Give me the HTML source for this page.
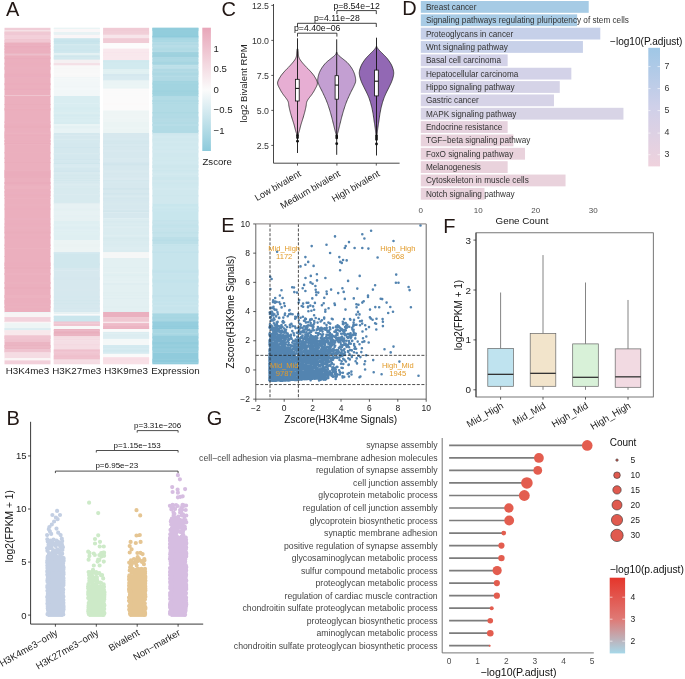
<!DOCTYPE html>
<html><head><meta charset="utf-8"><title>Figure</title>
<style>html,body{margin:0;padding:0;background:#fff;}svg{display:block;font-family:"Liberation Sans", sans-serif;will-change:transform;}</style>
</head><body>
<svg width="685" height="679" viewBox="0 0 685 679">
<rect width="685" height="679" fill="#fff"/>
<text x="6.00" y="15.70" font-size="20" fill="#231815" text-anchor="start">A</text>
<rect x="4.50" y="27.80" width="46.00" height="3.00" fill="#f0cdd7"/>
<rect x="4.50" y="30.50" width="46.00" height="1.40" fill="#f8ebee"/>
<rect x="4.50" y="31.60" width="46.00" height="3.70" fill="#f0c8d3"/>
<rect x="4.50" y="31.60" width="46.00" height="1.00" fill="#f0c8d3"/>
<rect x="4.50" y="32.60" width="46.00" height="1.00" fill="#f0cad4"/>
<rect x="4.50" y="33.60" width="46.00" height="1.00" fill="#f0c9d4"/>
<rect x="4.50" y="35.00" width="46.00" height="4.30" fill="#f3d0da"/>
<rect x="4.50" y="35.00" width="46.00" height="1.50" fill="#f3cfd9"/>
<rect x="4.50" y="36.50" width="46.00" height="2.00" fill="#f3cfd9"/>
<rect x="4.50" y="39.00" width="46.00" height="4.10" fill="#f0c6d1"/>
<rect x="4.50" y="40.00" width="46.00" height="2.00" fill="#f1c8d3"/>
<rect x="4.50" y="42.80" width="46.00" height="11.20" fill="#ebafbe"/>
<rect x="4.50" y="42.80" width="46.00" height="1.00" fill="#ebb1bf"/>
<rect x="4.50" y="44.80" width="46.00" height="1.50" fill="#ebb1c0"/>
<rect x="4.50" y="46.30" width="46.00" height="1.00" fill="#eaacbc"/>
<rect x="4.50" y="48.30" width="46.00" height="2.00" fill="#ebb0bf"/>
<rect x="4.50" y="51.30" width="46.00" height="1.50" fill="#ebb0bf"/>
<rect x="4.50" y="53.70" width="46.00" height="1.80" fill="#ecbdca"/>
<rect x="4.50" y="53.70" width="46.00" height="1.50" fill="#ecbecb"/>
<rect x="4.50" y="55.20" width="46.00" height="40.10" fill="#ebafbe"/>
<rect x="4.50" y="56.70" width="46.00" height="1.50" fill="#ebafbe"/>
<rect x="4.50" y="58.20" width="46.00" height="1.00" fill="#eaacbc"/>
<rect x="4.50" y="62.70" width="46.00" height="2.00" fill="#ebaebe"/>
<rect x="4.50" y="66.70" width="46.00" height="1.00" fill="#ebb1bf"/>
<rect x="4.50" y="67.70" width="46.00" height="2.00" fill="#ebb0bf"/>
<rect x="4.50" y="73.70" width="46.00" height="1.00" fill="#eaacbc"/>
<rect x="4.50" y="74.70" width="46.00" height="1.00" fill="#ebaebd"/>
<rect x="4.50" y="75.70" width="46.00" height="1.00" fill="#eaacbc"/>
<rect x="4.50" y="76.70" width="46.00" height="1.00" fill="#ebb0bf"/>
<rect x="4.50" y="83.20" width="46.00" height="2.00" fill="#ebadbd"/>
<rect x="4.50" y="88.70" width="46.00" height="1.00" fill="#eaacbc"/>
<rect x="4.50" y="95.00" width="46.00" height="1.30" fill="#efc4cf"/>
<rect x="4.50" y="95.00" width="46.00" height="1.00" fill="#efc4cf"/>
<rect x="4.50" y="96.00" width="46.00" height="216.30" fill="#ebafbe"/>
<rect x="4.50" y="96.00" width="46.00" height="1.00" fill="#ebb0be"/>
<rect x="4.50" y="104.00" width="46.00" height="1.00" fill="#eaadbc"/>
<rect x="4.50" y="108.00" width="46.00" height="1.00" fill="#ebb0bf"/>
<rect x="4.50" y="109.00" width="46.00" height="1.50" fill="#ebadbc"/>
<rect x="4.50" y="121.50" width="46.00" height="1.50" fill="#ebb0bf"/>
<rect x="4.50" y="124.50" width="46.00" height="1.50" fill="#ebaebd"/>
<rect x="4.50" y="126.00" width="46.00" height="2.00" fill="#eaadbc"/>
<rect x="4.50" y="131.50" width="46.00" height="1.00" fill="#ebb0bf"/>
<rect x="4.50" y="132.50" width="46.00" height="2.00" fill="#ecb2c0"/>
<rect x="4.50" y="134.50" width="46.00" height="2.00" fill="#ebadbd"/>
<rect x="4.50" y="136.50" width="46.00" height="2.00" fill="#ebafbe"/>
<rect x="4.50" y="140.00" width="46.00" height="1.00" fill="#ebaebe"/>
<rect x="4.50" y="141.00" width="46.00" height="1.00" fill="#ebaebd"/>
<rect x="4.50" y="143.00" width="46.00" height="1.00" fill="#eaacbc"/>
<rect x="4.50" y="144.00" width="46.00" height="1.00" fill="#ecb1c0"/>
<rect x="4.50" y="152.00" width="46.00" height="1.50" fill="#ebb0be"/>
<rect x="4.50" y="157.50" width="46.00" height="1.50" fill="#ebafbe"/>
<rect x="4.50" y="162.00" width="46.00" height="1.00" fill="#eaadbc"/>
<rect x="4.50" y="170.00" width="46.00" height="1.00" fill="#ebb0bf"/>
<rect x="4.50" y="171.00" width="46.00" height="1.00" fill="#eaadbc"/>
<rect x="4.50" y="172.00" width="46.00" height="2.00" fill="#eaacbc"/>
<rect x="4.50" y="174.00" width="46.00" height="2.00" fill="#eaacbc"/>
<rect x="4.50" y="176.00" width="46.00" height="2.00" fill="#eaadbc"/>
<rect x="4.50" y="182.00" width="46.00" height="2.00" fill="#eaacbc"/>
<rect x="4.50" y="185.50" width="46.00" height="1.50" fill="#ecb2c0"/>
<rect x="4.50" y="187.00" width="46.00" height="2.00" fill="#ecb2c0"/>
<rect x="4.50" y="191.00" width="46.00" height="1.50" fill="#ebafbe"/>
<rect x="4.50" y="192.50" width="46.00" height="1.00" fill="#ebb0bf"/>
<rect x="4.50" y="194.50" width="46.00" height="1.50" fill="#ebaebd"/>
<rect x="4.50" y="198.00" width="46.00" height="1.00" fill="#ecb1c0"/>
<rect x="4.50" y="204.50" width="46.00" height="1.00" fill="#ebb1bf"/>
<rect x="4.50" y="208.50" width="46.00" height="1.00" fill="#ebadbd"/>
<rect x="4.50" y="218.50" width="46.00" height="1.00" fill="#ecb2c1"/>
<rect x="4.50" y="223.50" width="46.00" height="1.00" fill="#ebaebd"/>
<rect x="4.50" y="226.50" width="46.00" height="1.00" fill="#ebafbe"/>
<rect x="4.50" y="227.50" width="46.00" height="1.00" fill="#ebb1bf"/>
<rect x="4.50" y="229.50" width="46.00" height="1.00" fill="#ebafbe"/>
<rect x="4.50" y="231.50" width="46.00" height="2.00" fill="#eaadbc"/>
<rect x="4.50" y="236.50" width="46.00" height="2.00" fill="#ebaebd"/>
<rect x="4.50" y="244.50" width="46.00" height="1.50" fill="#ebafbe"/>
<rect x="4.50" y="248.00" width="46.00" height="1.00" fill="#ecb2c0"/>
<rect x="4.50" y="256.00" width="46.00" height="1.00" fill="#ebafbe"/>
<rect x="4.50" y="262.50" width="46.00" height="2.00" fill="#ebaebd"/>
<rect x="4.50" y="264.50" width="46.00" height="1.50" fill="#ebaebd"/>
<rect x="4.50" y="267.00" width="46.00" height="2.00" fill="#eaadbc"/>
<rect x="4.50" y="273.00" width="46.00" height="2.00" fill="#ecb1c0"/>
<rect x="4.50" y="282.00" width="46.00" height="2.00" fill="#ebb1bf"/>
<rect x="4.50" y="287.00" width="46.00" height="2.00" fill="#eaadbc"/>
<rect x="4.50" y="295.00" width="46.00" height="2.00" fill="#ecb2c0"/>
<rect x="4.50" y="297.00" width="46.00" height="1.00" fill="#ecb2c0"/>
<rect x="4.50" y="300.00" width="46.00" height="1.50" fill="#ebafbe"/>
<rect x="4.50" y="301.50" width="46.00" height="2.00" fill="#ebafbe"/>
<rect x="4.50" y="303.50" width="46.00" height="1.00" fill="#ecb1c0"/>
<rect x="4.50" y="306.00" width="46.00" height="2.00" fill="#ebb1bf"/>
<rect x="4.50" y="312.00" width="46.00" height="1.30" fill="#eef6f7"/>
<rect x="4.50" y="312.00" width="46.00" height="1.00" fill="#eef6f7"/>
<rect x="4.50" y="313.00" width="46.00" height="4.60" fill="#f8f4f5"/>
<rect x="4.50" y="317.30" width="46.00" height="4.70" fill="#f3d3dc"/>
<rect x="4.50" y="317.30" width="46.00" height="1.00" fill="#f3d2dc"/>
<rect x="4.50" y="320.80" width="46.00" height="0.90" fill="#f3d2db"/>
<rect x="4.50" y="321.70" width="46.00" height="1.70" fill="#faf5f6"/>
<rect x="4.50" y="323.10" width="46.00" height="5.40" fill="#eef5f5"/>
<rect x="4.50" y="328.20" width="46.00" height="2.50" fill="#ddeef2"/>
<rect x="4.50" y="328.20" width="46.00" height="1.50" fill="#dcedf1"/>
<rect x="4.50" y="330.40" width="46.00" height="5.40" fill="#f8e8ec"/>
<rect x="4.50" y="330.40" width="46.00" height="2.00" fill="#f8e8ec"/>
<rect x="4.50" y="335.50" width="46.00" height="6.80" fill="#efc3cf"/>
<rect x="4.50" y="335.50" width="46.00" height="1.50" fill="#f0c5d1"/>
<rect x="4.50" y="337.00" width="46.00" height="2.00" fill="#f0c5d1"/>
<rect x="4.50" y="340.50" width="46.00" height="1.00" fill="#efc2ce"/>
<rect x="4.50" y="342.00" width="46.00" height="7.70" fill="#ebb5c3"/>
<rect x="4.50" y="345.00" width="46.00" height="1.00" fill="#eab3c1"/>
<rect x="4.50" y="346.00" width="46.00" height="2.00" fill="#ecb8c5"/>
<rect x="4.50" y="349.40" width="46.00" height="3.20" fill="#efc3cf"/>
<rect x="4.50" y="349.40" width="46.00" height="1.00" fill="#efc3cf"/>
<rect x="4.50" y="350.40" width="46.00" height="1.90" fill="#efc4d0"/>
<rect x="4.50" y="352.30" width="46.00" height="6.20" fill="#f5dce3"/>
<rect x="4.50" y="358.20" width="46.00" height="2.50" fill="#fbf5f6"/>
<rect x="4.50" y="358.20" width="46.00" height="2.00" fill="#fbf5f6"/>
<rect x="4.50" y="360.40" width="46.00" height="3.90" fill="#f2d0da"/>
<rect x="53.80" y="27.80" width="46.00" height="1.50" fill="#e8f3f5"/>
<rect x="53.80" y="27.80" width="46.00" height="1.00" fill="#eaf4f6"/>
<rect x="53.80" y="29.00" width="46.00" height="3.30" fill="#faf7f8"/>
<rect x="53.80" y="30.50" width="46.00" height="1.50" fill="#faf7f8"/>
<rect x="53.80" y="32.00" width="46.00" height="3.10" fill="#e6f1f3"/>
<rect x="53.80" y="32.00" width="46.00" height="2.00" fill="#e8f2f4"/>
<rect x="53.80" y="34.80" width="46.00" height="3.90" fill="#faf6f7"/>
<rect x="53.80" y="36.80" width="46.00" height="1.00" fill="#faf6f7"/>
<rect x="53.80" y="38.40" width="46.00" height="6.10" fill="#c9e5ec"/>
<rect x="53.80" y="38.40" width="46.00" height="1.00" fill="#cde7ed"/>
<rect x="53.80" y="40.90" width="46.00" height="1.00" fill="#c6e3eb"/>
<rect x="53.80" y="44.20" width="46.00" height="9.10" fill="#d0e8ee"/>
<rect x="53.80" y="46.20" width="46.00" height="2.00" fill="#cee7ed"/>
<rect x="53.80" y="49.20" width="46.00" height="2.00" fill="#cce6ed"/>
<rect x="53.80" y="53.00" width="46.00" height="2.50" fill="#e2f0f3"/>
<rect x="53.80" y="53.00" width="46.00" height="1.50" fill="#e4f1f4"/>
<rect x="53.80" y="55.20" width="46.00" height="4.70" fill="#cfe6ec"/>
<rect x="53.80" y="56.70" width="46.00" height="1.50" fill="#d4e9ee"/>
<rect x="53.80" y="58.20" width="46.00" height="1.00" fill="#d4e9ee"/>
<rect x="53.80" y="59.60" width="46.00" height="3.90" fill="#f5f0f2"/>
<rect x="53.80" y="63.20" width="46.00" height="2.50" fill="#f4dfe6"/>
<rect x="53.80" y="63.20" width="46.00" height="1.00" fill="#f4e0e6"/>
<rect x="53.80" y="64.20" width="46.00" height="1.20" fill="#f4e0e7"/>
<rect x="53.80" y="65.40" width="46.00" height="11.90" fill="#f8f8f8"/>
<rect x="53.80" y="67.40" width="46.00" height="1.00" fill="#f8f8f8"/>
<rect x="53.80" y="68.40" width="46.00" height="1.00" fill="#f7f7f7"/>
<rect x="53.80" y="69.40" width="46.00" height="2.00" fill="#f8f8f8"/>
<rect x="53.80" y="72.40" width="46.00" height="2.00" fill="#f9f9f9"/>
<rect x="53.80" y="77.00" width="46.00" height="19.30" fill="#f2f7f8"/>
<rect x="53.80" y="77.00" width="46.00" height="1.00" fill="#f1f6f7"/>
<rect x="53.80" y="78.00" width="46.00" height="1.00" fill="#f4f8f9"/>
<rect x="53.80" y="80.00" width="46.00" height="1.50" fill="#f3f8f8"/>
<rect x="53.80" y="86.00" width="46.00" height="1.00" fill="#f1f6f7"/>
<rect x="53.80" y="88.00" width="46.00" height="2.00" fill="#f3f8f9"/>
<rect x="53.80" y="91.00" width="46.00" height="1.00" fill="#f2f7f8"/>
<rect x="53.80" y="96.00" width="46.00" height="28.30" fill="#d9edf1"/>
<rect x="53.80" y="103.00" width="46.00" height="1.00" fill="#ddeff3"/>
<rect x="53.80" y="107.50" width="46.00" height="2.00" fill="#d6ecf0"/>
<rect x="53.80" y="110.50" width="46.00" height="2.00" fill="#d8edf1"/>
<rect x="53.80" y="112.50" width="46.00" height="1.00" fill="#ddeff2"/>
<rect x="53.80" y="114.50" width="46.00" height="2.00" fill="#d5ebf0"/>
<rect x="53.80" y="118.00" width="46.00" height="1.00" fill="#d7ecf0"/>
<rect x="53.80" y="122.50" width="46.00" height="1.00" fill="#d6ecf0"/>
<rect x="53.80" y="124.00" width="46.00" height="9.30" fill="#e6f2f4"/>
<rect x="53.80" y="124.00" width="46.00" height="2.00" fill="#e9f4f5"/>
<rect x="53.80" y="126.00" width="46.00" height="2.00" fill="#e4f1f3"/>
<rect x="53.80" y="129.00" width="46.00" height="1.50" fill="#e8f3f5"/>
<rect x="53.80" y="130.50" width="46.00" height="1.50" fill="#e8f3f5"/>
<rect x="53.80" y="132.00" width="46.00" height="1.00" fill="#e7f3f5"/>
<rect x="53.80" y="133.00" width="46.00" height="39.30" fill="#d4e8ee"/>
<rect x="53.80" y="134.00" width="46.00" height="1.00" fill="#d5e8ee"/>
<rect x="53.80" y="135.00" width="46.00" height="1.00" fill="#d9eaf0"/>
<rect x="53.80" y="136.00" width="46.00" height="2.00" fill="#d5e8ee"/>
<rect x="53.80" y="138.00" width="46.00" height="1.00" fill="#d6e9ef"/>
<rect x="53.80" y="139.00" width="46.00" height="1.50" fill="#d9ebf0"/>
<rect x="53.80" y="140.50" width="46.00" height="1.00" fill="#d3e8ee"/>
<rect x="53.80" y="141.50" width="46.00" height="1.00" fill="#d6e9ef"/>
<rect x="53.80" y="147.00" width="46.00" height="1.00" fill="#d0e6ed"/>
<rect x="53.80" y="153.00" width="46.00" height="1.00" fill="#d8eaef"/>
<rect x="53.80" y="154.00" width="46.00" height="1.00" fill="#d5e9ef"/>
<rect x="53.80" y="159.00" width="46.00" height="1.00" fill="#d1e6ed"/>
<rect x="53.80" y="160.00" width="46.00" height="1.00" fill="#d5e9ef"/>
<rect x="53.80" y="163.00" width="46.00" height="1.00" fill="#cfe6ec"/>
<rect x="53.80" y="164.00" width="46.00" height="2.00" fill="#d8eaf0"/>
<rect x="53.80" y="166.00" width="46.00" height="1.50" fill="#d9ebf0"/>
<rect x="53.80" y="170.50" width="46.00" height="1.50" fill="#d1e6ed"/>
<rect x="53.80" y="172.00" width="46.00" height="31.90" fill="#d8eaef"/>
<rect x="53.80" y="174.50" width="46.00" height="2.00" fill="#d4e8ed"/>
<rect x="53.80" y="177.50" width="46.00" height="1.50" fill="#d4e8ed"/>
<rect x="53.80" y="180.00" width="46.00" height="1.00" fill="#d3e8ed"/>
<rect x="53.80" y="182.50" width="46.00" height="1.00" fill="#d4e8ed"/>
<rect x="53.80" y="183.50" width="46.00" height="2.00" fill="#dbecf0"/>
<rect x="53.80" y="187.50" width="46.00" height="1.00" fill="#d9ebf0"/>
<rect x="53.80" y="188.50" width="46.00" height="1.00" fill="#d6e9ee"/>
<rect x="53.80" y="191.00" width="46.00" height="1.00" fill="#d8eaef"/>
<rect x="53.80" y="194.00" width="46.00" height="1.00" fill="#dbebf0"/>
<rect x="53.80" y="195.00" width="46.00" height="2.00" fill="#d8eaef"/>
<rect x="53.80" y="200.50" width="46.00" height="1.00" fill="#d5e9ee"/>
<rect x="53.80" y="203.60" width="46.00" height="17.70" fill="#e6f1f3"/>
<rect x="53.80" y="203.60" width="46.00" height="1.00" fill="#e6f1f3"/>
<rect x="53.80" y="208.60" width="46.00" height="2.00" fill="#e4f0f2"/>
<rect x="53.80" y="211.60" width="46.00" height="1.00" fill="#e8f2f4"/>
<rect x="53.80" y="213.60" width="46.00" height="1.00" fill="#e8f2f4"/>
<rect x="53.80" y="215.60" width="46.00" height="1.50" fill="#e5f1f3"/>
<rect x="53.80" y="218.10" width="46.00" height="1.00" fill="#e7f1f3"/>
<rect x="53.80" y="221.00" width="46.00" height="19.30" fill="#dfeff2"/>
<rect x="53.80" y="224.00" width="46.00" height="2.00" fill="#e1f0f3"/>
<rect x="53.80" y="227.50" width="46.00" height="1.00" fill="#ddeef1"/>
<rect x="53.80" y="228.50" width="46.00" height="1.00" fill="#ddeef1"/>
<rect x="53.80" y="229.50" width="46.00" height="1.50" fill="#e1f0f3"/>
<rect x="53.80" y="232.50" width="46.00" height="1.00" fill="#e2f1f3"/>
<rect x="53.80" y="233.50" width="46.00" height="2.00" fill="#e0f0f2"/>
<rect x="53.80" y="240.00" width="46.00" height="12.60" fill="#ecf4f4"/>
<rect x="53.80" y="241.00" width="46.00" height="1.00" fill="#ecf4f4"/>
<rect x="53.80" y="242.00" width="46.00" height="2.00" fill="#ecf4f4"/>
<rect x="53.80" y="244.00" width="46.00" height="1.00" fill="#ebf3f3"/>
<rect x="53.80" y="245.00" width="46.00" height="2.00" fill="#ebf3f3"/>
<rect x="53.80" y="249.00" width="46.00" height="1.00" fill="#edf4f4"/>
<rect x="53.80" y="252.30" width="46.00" height="16.00" fill="#d0e7ed"/>
<rect x="53.80" y="252.30" width="46.00" height="1.50" fill="#d4e9ef"/>
<rect x="53.80" y="263.30" width="46.00" height="2.00" fill="#d0e7ed"/>
<rect x="53.80" y="268.00" width="46.00" height="44.30" fill="#d6e8ee"/>
<rect x="53.80" y="270.00" width="46.00" height="1.00" fill="#daeaf0"/>
<rect x="53.80" y="277.50" width="46.00" height="1.00" fill="#d3e6ed"/>
<rect x="53.80" y="278.50" width="46.00" height="1.50" fill="#d5e7ed"/>
<rect x="53.80" y="289.50" width="46.00" height="1.00" fill="#d7e8ee"/>
<rect x="53.80" y="296.50" width="46.00" height="1.00" fill="#d4e7ed"/>
<rect x="53.80" y="300.00" width="46.00" height="1.50" fill="#d3e7ed"/>
<rect x="53.80" y="303.00" width="46.00" height="1.50" fill="#d3e7ed"/>
<rect x="53.80" y="307.50" width="46.00" height="1.50" fill="#d5e7ee"/>
<rect x="53.80" y="309.00" width="46.00" height="2.00" fill="#d7e9ef"/>
<rect x="53.80" y="312.00" width="46.00" height="2.70" fill="#e8f2f4"/>
<rect x="53.80" y="314.40" width="46.00" height="1.70" fill="#fafafa"/>
<rect x="53.80" y="314.40" width="46.00" height="1.40" fill="#fafafa"/>
<rect x="53.80" y="315.80" width="46.00" height="6.20" fill="#cbe6ed"/>
<rect x="53.80" y="315.80" width="46.00" height="2.00" fill="#cbe6ed"/>
<rect x="53.80" y="319.30" width="46.00" height="1.00" fill="#cae6ed"/>
<rect x="53.80" y="321.70" width="46.00" height="4.60" fill="#f0c8d3"/>
<rect x="53.80" y="321.70" width="46.00" height="1.00" fill="#efc4d0"/>
<rect x="53.80" y="322.70" width="46.00" height="1.50" fill="#f1cdd7"/>
<rect x="53.80" y="324.20" width="46.00" height="1.50" fill="#efc3cf"/>
<rect x="53.80" y="326.00" width="46.00" height="3.30" fill="#f8f8f8"/>
<rect x="53.80" y="329.00" width="46.00" height="7.60" fill="#eab2c1"/>
<rect x="53.80" y="330.00" width="46.00" height="1.00" fill="#ecb9c7"/>
<rect x="53.80" y="332.50" width="46.00" height="1.00" fill="#e8a9ba"/>
<rect x="53.80" y="333.50" width="46.00" height="2.00" fill="#ebb5c3"/>
<rect x="53.80" y="336.30" width="46.00" height="13.40" fill="#f5dde4"/>
<rect x="53.80" y="336.30" width="46.00" height="1.50" fill="#f4dae2"/>
<rect x="53.80" y="337.80" width="46.00" height="1.00" fill="#f5dfe5"/>
<rect x="53.80" y="338.80" width="46.00" height="1.50" fill="#f4dae2"/>
<rect x="53.80" y="340.30" width="46.00" height="1.00" fill="#f6e1e7"/>
<rect x="53.80" y="342.30" width="46.00" height="2.00" fill="#f5dee5"/>
<rect x="53.80" y="344.30" width="46.00" height="1.00" fill="#f4d9e1"/>
<rect x="53.80" y="349.40" width="46.00" height="10.50" fill="#f0c4d0"/>
<rect x="53.80" y="349.40" width="46.00" height="1.00" fill="#f1c8d3"/>
<rect x="53.80" y="350.40" width="46.00" height="1.00" fill="#eebdcb"/>
<rect x="53.80" y="351.40" width="46.00" height="2.00" fill="#f1c7d3"/>
<rect x="53.80" y="355.40" width="46.00" height="2.00" fill="#efbfcc"/>
<rect x="53.80" y="357.40" width="46.00" height="1.00" fill="#f0c2ce"/>
<rect x="53.80" y="358.40" width="46.00" height="1.00" fill="#efc0cc"/>
<rect x="53.80" y="359.60" width="46.00" height="4.70" fill="#f5dde4"/>
<rect x="53.80" y="359.60" width="46.00" height="1.00" fill="#f6e1e7"/>
<rect x="53.80" y="360.60" width="46.00" height="2.00" fill="#f5dde4"/>
<rect x="53.80" y="362.60" width="46.00" height="1.40" fill="#f4dbe2"/>
<rect x="103.10" y="27.80" width="46.00" height="7.30" fill="#f0cbd5"/>
<rect x="103.10" y="31.30" width="46.00" height="1.00" fill="#f1cfd8"/>
<rect x="103.10" y="32.30" width="46.00" height="1.00" fill="#f1ced8"/>
<rect x="103.10" y="33.30" width="46.00" height="1.00" fill="#f1d0d9"/>
<rect x="103.10" y="34.80" width="46.00" height="3.90" fill="#f7e5ea"/>
<rect x="103.10" y="34.80" width="46.00" height="2.00" fill="#f7e5ea"/>
<rect x="103.10" y="38.40" width="46.00" height="5.10" fill="#f0ccd6"/>
<rect x="103.10" y="38.40" width="46.00" height="2.00" fill="#f0cbd5"/>
<rect x="103.10" y="43.20" width="46.00" height="5.70" fill="#fcfcfc"/>
<rect x="103.10" y="43.20" width="46.00" height="1.00" fill="#fcfcfc"/>
<rect x="103.10" y="48.60" width="46.00" height="12.00" fill="#f9e8ed"/>
<rect x="103.10" y="52.10" width="46.00" height="1.50" fill="#f8e5eb"/>
<rect x="103.10" y="53.60" width="46.00" height="1.00" fill="#f9eaee"/>
<rect x="103.10" y="54.60" width="46.00" height="1.00" fill="#f8e6eb"/>
<rect x="103.10" y="60.30" width="46.00" height="9.00" fill="#d2eaef"/>
<rect x="103.10" y="60.30" width="46.00" height="2.00" fill="#cfe9ee"/>
<rect x="103.10" y="63.80" width="46.00" height="1.00" fill="#d2eaef"/>
<rect x="103.10" y="67.80" width="46.00" height="1.20" fill="#d2eaef"/>
<rect x="103.10" y="69.00" width="46.00" height="5.30" fill="#e0f0f2"/>
<rect x="103.10" y="71.00" width="46.00" height="1.00" fill="#e2f1f3"/>
<rect x="103.10" y="74.00" width="46.00" height="6.90" fill="#d8eaf0"/>
<rect x="103.10" y="74.00" width="46.00" height="2.00" fill="#d5e8ef"/>
<rect x="103.10" y="79.50" width="46.00" height="1.10" fill="#daebf1"/>
<rect x="103.10" y="80.60" width="46.00" height="8.30" fill="#eaf4f5"/>
<rect x="103.10" y="80.60" width="46.00" height="1.00" fill="#eaf4f5"/>
<rect x="103.10" y="84.60" width="46.00" height="1.00" fill="#ecf5f6"/>
<rect x="103.10" y="85.60" width="46.00" height="1.00" fill="#ecf5f6"/>
<rect x="103.10" y="88.60" width="46.00" height="22.20" fill="#fbfafa"/>
<rect x="103.10" y="90.60" width="46.00" height="1.00" fill="#fbfafa"/>
<rect x="103.10" y="93.60" width="46.00" height="1.00" fill="#fbfafa"/>
<rect x="103.10" y="95.60" width="46.00" height="1.50" fill="#fbfafa"/>
<rect x="103.10" y="97.10" width="46.00" height="1.00" fill="#fbfafa"/>
<rect x="103.10" y="98.10" width="46.00" height="1.00" fill="#fbfafa"/>
<rect x="103.10" y="99.10" width="46.00" height="2.00" fill="#fbfafa"/>
<rect x="103.10" y="102.10" width="46.00" height="1.00" fill="#fbfafa"/>
<rect x="103.10" y="103.10" width="46.00" height="2.00" fill="#fbf9f9"/>
<rect x="103.10" y="110.50" width="46.00" height="11.80" fill="#eef5f5"/>
<rect x="103.10" y="114.50" width="46.00" height="1.00" fill="#eff6f6"/>
<rect x="103.10" y="115.50" width="46.00" height="1.00" fill="#eef5f5"/>
<rect x="103.10" y="116.50" width="46.00" height="1.00" fill="#f0f6f6"/>
<rect x="103.10" y="117.50" width="46.00" height="2.00" fill="#eff6f6"/>
<rect x="103.10" y="119.50" width="46.00" height="1.50" fill="#eef5f5"/>
<rect x="103.10" y="122.00" width="46.00" height="11.30" fill="#ebf4f4"/>
<rect x="103.10" y="127.50" width="46.00" height="1.50" fill="#edf5f5"/>
<rect x="103.10" y="130.50" width="46.00" height="2.00" fill="#ebf4f4"/>
<rect x="103.10" y="133.00" width="46.00" height="85.30" fill="#d6e8ee"/>
<rect x="103.10" y="134.50" width="46.00" height="2.00" fill="#d7e8ee"/>
<rect x="103.10" y="138.50" width="46.00" height="1.00" fill="#d8e9ef"/>
<rect x="103.10" y="140.50" width="46.00" height="2.00" fill="#d4e7ed"/>
<rect x="103.10" y="142.50" width="46.00" height="1.50" fill="#d4e7ed"/>
<rect x="103.10" y="144.00" width="46.00" height="2.00" fill="#d7e9ef"/>
<rect x="103.10" y="146.00" width="46.00" height="1.00" fill="#d4e7ed"/>
<rect x="103.10" y="149.00" width="46.00" height="1.00" fill="#d6e8ee"/>
<rect x="103.10" y="150.00" width="46.00" height="2.00" fill="#d8e9ef"/>
<rect x="103.10" y="152.00" width="46.00" height="2.00" fill="#d6e8ee"/>
<rect x="103.10" y="158.00" width="46.00" height="1.50" fill="#d9eaef"/>
<rect x="103.10" y="159.50" width="46.00" height="2.00" fill="#d8e9ef"/>
<rect x="103.10" y="161.50" width="46.00" height="1.00" fill="#daeaf0"/>
<rect x="103.10" y="162.50" width="46.00" height="1.50" fill="#d2e6ed"/>
<rect x="103.10" y="164.00" width="46.00" height="1.50" fill="#d1e5ec"/>
<rect x="103.10" y="166.50" width="46.00" height="1.50" fill="#d6e8ee"/>
<rect x="103.10" y="170.50" width="46.00" height="2.00" fill="#d9eaef"/>
<rect x="103.10" y="174.50" width="46.00" height="1.00" fill="#d7e8ee"/>
<rect x="103.10" y="175.50" width="46.00" height="1.00" fill="#d7e9ef"/>
<rect x="103.10" y="176.50" width="46.00" height="1.00" fill="#d7e8ee"/>
<rect x="103.10" y="177.50" width="46.00" height="1.50" fill="#daeaf0"/>
<rect x="103.10" y="179.00" width="46.00" height="1.00" fill="#daeaf0"/>
<rect x="103.10" y="180.00" width="46.00" height="1.50" fill="#d4e7ed"/>
<rect x="103.10" y="181.50" width="46.00" height="1.00" fill="#d8e9ef"/>
<rect x="103.10" y="188.00" width="46.00" height="1.00" fill="#d1e5ec"/>
<rect x="103.10" y="189.00" width="46.00" height="1.00" fill="#d2e6ec"/>
<rect x="103.10" y="193.00" width="46.00" height="1.00" fill="#d2e6ed"/>
<rect x="103.10" y="194.00" width="46.00" height="1.50" fill="#d4e7ed"/>
<rect x="103.10" y="195.50" width="46.00" height="2.00" fill="#d9eaef"/>
<rect x="103.10" y="197.50" width="46.00" height="2.00" fill="#d4e7ed"/>
<rect x="103.10" y="199.50" width="46.00" height="1.50" fill="#d5e7ee"/>
<rect x="103.10" y="203.00" width="46.00" height="2.00" fill="#d7e9ee"/>
<rect x="103.10" y="206.00" width="46.00" height="2.00" fill="#d6e8ee"/>
<rect x="103.10" y="209.00" width="46.00" height="1.50" fill="#d8e9ef"/>
<rect x="103.10" y="210.50" width="46.00" height="1.50" fill="#d2e6ec"/>
<rect x="103.10" y="212.00" width="46.00" height="1.00" fill="#dbebf0"/>
<rect x="103.10" y="218.00" width="46.00" height="34.60" fill="#dbecf0"/>
<rect x="103.10" y="218.00" width="46.00" height="1.00" fill="#dfeef2"/>
<rect x="103.10" y="221.00" width="46.00" height="1.50" fill="#d8eaef"/>
<rect x="103.10" y="225.00" width="46.00" height="1.50" fill="#d9ebef"/>
<rect x="103.10" y="226.50" width="46.00" height="1.50" fill="#deedf1"/>
<rect x="103.10" y="232.50" width="46.00" height="1.00" fill="#daecf0"/>
<rect x="103.10" y="235.00" width="46.00" height="1.50" fill="#deeef1"/>
<rect x="103.10" y="237.50" width="46.00" height="1.50" fill="#d7eaee"/>
<rect x="103.10" y="239.00" width="46.00" height="2.00" fill="#d9ebef"/>
<rect x="103.10" y="243.50" width="46.00" height="1.50" fill="#daebf0"/>
<rect x="103.10" y="247.50" width="46.00" height="1.00" fill="#dfeef2"/>
<rect x="103.10" y="248.50" width="46.00" height="1.50" fill="#ddedf1"/>
<rect x="103.10" y="252.30" width="46.00" height="6.00" fill="#f6f7f7"/>
<rect x="103.10" y="252.30" width="46.00" height="1.00" fill="#f6f7f7"/>
<rect x="103.10" y="254.30" width="46.00" height="1.00" fill="#f6f7f7"/>
<rect x="103.10" y="255.30" width="46.00" height="2.00" fill="#f6f7f7"/>
<rect x="103.10" y="258.00" width="46.00" height="54.30" fill="#e3f0f2"/>
<rect x="103.10" y="265.00" width="46.00" height="1.00" fill="#e3f0f2"/>
<rect x="103.10" y="267.00" width="46.00" height="1.50" fill="#e1eff1"/>
<rect x="103.10" y="268.50" width="46.00" height="1.50" fill="#e3f0f2"/>
<rect x="103.10" y="272.00" width="46.00" height="1.00" fill="#e6f2f3"/>
<rect x="103.10" y="274.50" width="46.00" height="1.50" fill="#e0eff1"/>
<rect x="103.10" y="278.50" width="46.00" height="1.00" fill="#e5f1f3"/>
<rect x="103.10" y="281.00" width="46.00" height="2.00" fill="#e5f1f3"/>
<rect x="103.10" y="283.00" width="46.00" height="2.00" fill="#e0eef1"/>
<rect x="103.10" y="292.00" width="46.00" height="1.00" fill="#e1eff1"/>
<rect x="103.10" y="293.00" width="46.00" height="1.50" fill="#e2eff1"/>
<rect x="103.10" y="294.50" width="46.00" height="1.50" fill="#e1eff1"/>
<rect x="103.10" y="298.00" width="46.00" height="1.00" fill="#e0eef1"/>
<rect x="103.10" y="304.00" width="46.00" height="2.00" fill="#e3f0f2"/>
<rect x="103.10" y="306.00" width="46.00" height="1.00" fill="#e2eff1"/>
<rect x="103.10" y="307.00" width="46.00" height="1.00" fill="#e1eff1"/>
<rect x="103.10" y="311.00" width="46.00" height="1.00" fill="#e2eff1"/>
<rect x="103.10" y="312.00" width="46.00" height="5.60" fill="#eab0bf"/>
<rect x="103.10" y="317.30" width="46.00" height="4.70" fill="#f0c8d2"/>
<rect x="103.10" y="321.70" width="46.00" height="1.70" fill="#f8e8ec"/>
<rect x="103.10" y="323.10" width="46.00" height="6.20" fill="#eebbc8"/>
<rect x="103.10" y="326.10" width="46.00" height="1.50" fill="#ecb4c2"/>
<rect x="103.10" y="327.60" width="46.00" height="1.40" fill="#ecb3c2"/>
<rect x="103.10" y="329.00" width="46.00" height="3.20" fill="#fafafa"/>
<rect x="103.10" y="329.00" width="46.00" height="1.00" fill="#f9f9f9"/>
<rect x="103.10" y="331.90" width="46.00" height="7.60" fill="#dcedf1"/>
<rect x="103.10" y="332.90" width="46.00" height="1.00" fill="#e0eff2"/>
<rect x="103.10" y="335.90" width="46.00" height="2.00" fill="#ddedf1"/>
<rect x="103.10" y="337.90" width="46.00" height="1.00" fill="#e0eff3"/>
<rect x="103.10" y="339.20" width="46.00" height="6.10" fill="#f5f8f8"/>
<rect x="103.10" y="340.20" width="46.00" height="1.00" fill="#f4f8f8"/>
<rect x="103.10" y="342.70" width="46.00" height="1.50" fill="#f5f8f8"/>
<rect x="103.10" y="345.00" width="46.00" height="9.10" fill="#d5eaf0"/>
<rect x="103.10" y="345.00" width="46.00" height="1.50" fill="#d5eaf0"/>
<rect x="103.10" y="346.50" width="46.00" height="1.50" fill="#d3e9ef"/>
<rect x="103.10" y="348.00" width="46.00" height="1.00" fill="#d7ebf1"/>
<rect x="103.10" y="350.00" width="46.00" height="1.00" fill="#d1e8ee"/>
<rect x="103.10" y="351.00" width="46.00" height="1.00" fill="#d3e9ef"/>
<rect x="103.10" y="352.00" width="46.00" height="1.80" fill="#d7ebf1"/>
<rect x="103.10" y="353.80" width="46.00" height="3.90" fill="#fafafa"/>
<rect x="103.10" y="355.80" width="46.00" height="1.00" fill="#fafafa"/>
<rect x="103.10" y="357.40" width="46.00" height="6.90" fill="#f8e0e6"/>
<rect x="103.10" y="357.40" width="46.00" height="2.00" fill="#f8dee5"/>
<rect x="103.10" y="359.40" width="46.00" height="1.00" fill="#f7dde3"/>
<rect x="103.10" y="360.40" width="46.00" height="1.50" fill="#f8e0e6"/>
<rect x="152.40" y="27.80" width="46.00" height="10.20" fill="#92cddc"/>
<rect x="152.40" y="27.80" width="46.00" height="2.00" fill="#92cddc"/>
<rect x="152.40" y="29.80" width="46.00" height="1.00" fill="#93cedc"/>
<rect x="152.40" y="35.80" width="46.00" height="1.50" fill="#8ecbdb"/>
<rect x="152.40" y="37.70" width="46.00" height="4.60" fill="#a8d7e3"/>
<rect x="152.40" y="37.70" width="46.00" height="1.00" fill="#a9d8e3"/>
<rect x="152.40" y="39.70" width="46.00" height="2.00" fill="#acd9e4"/>
<rect x="152.40" y="42.00" width="46.00" height="10.60" fill="#b5dce6"/>
<rect x="152.40" y="43.50" width="46.00" height="1.50" fill="#b1dae5"/>
<rect x="152.40" y="45.00" width="46.00" height="2.00" fill="#b8dde7"/>
<rect x="152.40" y="48.50" width="46.00" height="2.00" fill="#b0dae4"/>
<rect x="152.40" y="52.30" width="46.00" height="5.40" fill="#9dd1de"/>
<rect x="152.40" y="52.30" width="46.00" height="1.00" fill="#9dd1de"/>
<rect x="152.40" y="53.30" width="46.00" height="1.00" fill="#a1d3df"/>
<rect x="152.40" y="55.30" width="46.00" height="2.00" fill="#9ed1de"/>
<rect x="152.40" y="57.40" width="46.00" height="8.30" fill="#acd8e3"/>
<rect x="152.40" y="59.40" width="46.00" height="1.00" fill="#b0dae5"/>
<rect x="152.40" y="61.90" width="46.00" height="2.00" fill="#a6d5e1"/>
<rect x="152.40" y="65.40" width="46.00" height="3.20" fill="#bcdfe8"/>
<rect x="152.40" y="66.90" width="46.00" height="1.00" fill="#bee0e9"/>
<rect x="152.40" y="68.30" width="46.00" height="12.60" fill="#b0d9e4"/>
<rect x="152.40" y="70.80" width="46.00" height="1.50" fill="#b4dbe5"/>
<rect x="152.40" y="72.30" width="46.00" height="1.00" fill="#b1dae4"/>
<rect x="152.40" y="73.30" width="46.00" height="1.50" fill="#acd7e3"/>
<rect x="152.40" y="75.80" width="46.00" height="1.00" fill="#b6dce6"/>
<rect x="152.40" y="80.60" width="46.00" height="15.70" fill="#a2d4e0"/>
<rect x="152.40" y="82.60" width="46.00" height="1.00" fill="#a7d6e2"/>
<rect x="152.40" y="83.60" width="46.00" height="1.00" fill="#a1d4e0"/>
<rect x="152.40" y="86.60" width="46.00" height="1.00" fill="#a3d5e0"/>
<rect x="152.40" y="90.60" width="46.00" height="1.00" fill="#9cd1de"/>
<rect x="152.40" y="92.60" width="46.00" height="1.50" fill="#a0d3df"/>
<rect x="152.40" y="96.00" width="46.00" height="37.30" fill="#b2dbe5"/>
<rect x="152.40" y="96.00" width="46.00" height="1.00" fill="#b1dae5"/>
<rect x="152.40" y="100.00" width="46.00" height="2.00" fill="#aed9e4"/>
<rect x="152.40" y="103.00" width="46.00" height="1.00" fill="#afdae4"/>
<rect x="152.40" y="112.00" width="46.00" height="1.50" fill="#add9e3"/>
<rect x="152.40" y="116.50" width="46.00" height="2.00" fill="#b1dae5"/>
<rect x="152.40" y="118.50" width="46.00" height="2.00" fill="#b5dce6"/>
<rect x="152.40" y="120.50" width="46.00" height="1.50" fill="#b5dce6"/>
<rect x="152.40" y="124.00" width="46.00" height="1.00" fill="#b7dde7"/>
<rect x="152.40" y="125.00" width="46.00" height="1.00" fill="#b7dde7"/>
<rect x="152.40" y="130.00" width="46.00" height="2.00" fill="#b1dae5"/>
<rect x="152.40" y="133.00" width="46.00" height="70.90" fill="#d0e8ee"/>
<rect x="152.40" y="133.00" width="46.00" height="1.50" fill="#cde6ed"/>
<rect x="152.40" y="136.50" width="46.00" height="1.00" fill="#d3e9ef"/>
<rect x="152.40" y="138.50" width="46.00" height="2.00" fill="#d0e8ee"/>
<rect x="152.40" y="140.50" width="46.00" height="1.00" fill="#cfe7ee"/>
<rect x="152.40" y="141.50" width="46.00" height="1.00" fill="#d4eaef"/>
<rect x="152.40" y="146.50" width="46.00" height="2.00" fill="#d2e9ef"/>
<rect x="152.40" y="150.50" width="46.00" height="2.00" fill="#d3e9ef"/>
<rect x="152.40" y="157.50" width="46.00" height="2.00" fill="#d1e9ee"/>
<rect x="152.40" y="161.50" width="46.00" height="2.00" fill="#d2e9ef"/>
<rect x="152.40" y="165.00" width="46.00" height="2.00" fill="#cee7ed"/>
<rect x="152.40" y="167.00" width="46.00" height="1.00" fill="#cee7ed"/>
<rect x="152.40" y="170.00" width="46.00" height="1.50" fill="#cde7ed"/>
<rect x="152.40" y="173.50" width="46.00" height="1.50" fill="#d3eaef"/>
<rect x="152.40" y="177.00" width="46.00" height="1.00" fill="#cde7ed"/>
<rect x="152.40" y="178.00" width="46.00" height="2.00" fill="#cde7ed"/>
<rect x="152.40" y="180.00" width="46.00" height="2.00" fill="#d1e8ee"/>
<rect x="152.40" y="182.00" width="46.00" height="1.00" fill="#cfe7ee"/>
<rect x="152.40" y="183.00" width="46.00" height="1.50" fill="#cee7ed"/>
<rect x="152.40" y="184.50" width="46.00" height="2.00" fill="#cfe8ee"/>
<rect x="152.40" y="187.50" width="46.00" height="1.00" fill="#d0e8ee"/>
<rect x="152.40" y="188.50" width="46.00" height="1.00" fill="#d4eaef"/>
<rect x="152.40" y="195.00" width="46.00" height="1.50" fill="#cee7ed"/>
<rect x="152.40" y="203.60" width="46.00" height="16.70" fill="#c8e6ed"/>
<rect x="152.40" y="206.60" width="46.00" height="2.00" fill="#cce8ee"/>
<rect x="152.40" y="209.60" width="46.00" height="2.00" fill="#cae7ee"/>
<rect x="152.40" y="220.00" width="46.00" height="17.30" fill="#c4e3eb"/>
<rect x="152.40" y="221.50" width="46.00" height="2.00" fill="#c7e4ec"/>
<rect x="152.40" y="225.50" width="46.00" height="1.00" fill="#c0e1ea"/>
<rect x="152.40" y="226.50" width="46.00" height="1.50" fill="#c4e3eb"/>
<rect x="152.40" y="228.00" width="46.00" height="1.50" fill="#c7e4ec"/>
<rect x="152.40" y="229.50" width="46.00" height="1.50" fill="#c5e3eb"/>
<rect x="152.40" y="232.00" width="46.00" height="1.50" fill="#c0e1e9"/>
<rect x="152.40" y="237.00" width="46.00" height="7.30" fill="#bcdfe8"/>
<rect x="152.40" y="239.50" width="46.00" height="1.50" fill="#b8dde7"/>
<rect x="152.40" y="244.00" width="46.00" height="68.30" fill="#c6e4ec"/>
<rect x="152.40" y="245.00" width="46.00" height="1.00" fill="#c4e3eb"/>
<rect x="152.40" y="250.50" width="46.00" height="1.00" fill="#c7e4ec"/>
<rect x="152.40" y="251.50" width="46.00" height="1.50" fill="#c2e2eb"/>
<rect x="152.40" y="269.50" width="46.00" height="1.50" fill="#c3e3eb"/>
<rect x="152.40" y="271.00" width="46.00" height="1.50" fill="#c2e2eb"/>
<rect x="152.40" y="272.50" width="46.00" height="1.00" fill="#c2e2eb"/>
<rect x="152.40" y="273.50" width="46.00" height="1.00" fill="#c9e5ed"/>
<rect x="152.40" y="274.50" width="46.00" height="1.00" fill="#c3e3eb"/>
<rect x="152.40" y="278.50" width="46.00" height="1.00" fill="#c7e4ec"/>
<rect x="152.40" y="279.50" width="46.00" height="2.00" fill="#c3e3eb"/>
<rect x="152.40" y="281.50" width="46.00" height="1.00" fill="#c2e2eb"/>
<rect x="152.40" y="285.00" width="46.00" height="1.50" fill="#c6e4ec"/>
<rect x="152.40" y="295.00" width="46.00" height="2.00" fill="#c3e2eb"/>
<rect x="152.40" y="297.00" width="46.00" height="1.50" fill="#c6e4ec"/>
<rect x="152.40" y="300.50" width="46.00" height="1.00" fill="#c3e3eb"/>
<rect x="152.40" y="301.50" width="46.00" height="1.50" fill="#c8e5ed"/>
<rect x="152.40" y="305.00" width="46.00" height="1.50" fill="#cae6ed"/>
<rect x="152.40" y="310.50" width="46.00" height="1.50" fill="#c8e5ed"/>
<rect x="152.40" y="312.00" width="46.00" height="1.90" fill="#c8e5ec"/>
<rect x="152.40" y="313.60" width="46.00" height="8.40" fill="#a8d7e3"/>
<rect x="152.40" y="313.60" width="46.00" height="1.00" fill="#a8d7e3"/>
<rect x="152.40" y="316.60" width="46.00" height="1.00" fill="#a8d7e3"/>
<rect x="152.40" y="317.60" width="46.00" height="1.00" fill="#a4d5e2"/>
<rect x="152.40" y="318.60" width="46.00" height="1.00" fill="#abd8e4"/>
<rect x="152.40" y="321.70" width="46.00" height="7.60" fill="#95cede"/>
<rect x="152.40" y="321.70" width="46.00" height="1.00" fill="#96cede"/>
<rect x="152.40" y="325.70" width="46.00" height="1.00" fill="#92ccdd"/>
<rect x="152.40" y="327.70" width="46.00" height="1.30" fill="#92cddd"/>
<rect x="152.40" y="329.00" width="46.00" height="6.80" fill="#a8d7e3"/>
<rect x="152.40" y="333.00" width="46.00" height="1.00" fill="#aedae5"/>
<rect x="152.40" y="334.00" width="46.00" height="1.50" fill="#a9d7e3"/>
<rect x="152.40" y="335.50" width="46.00" height="17.10" fill="#98cfde"/>
<rect x="152.40" y="336.50" width="46.00" height="2.00" fill="#98cfde"/>
<rect x="152.40" y="340.50" width="46.00" height="1.50" fill="#99cfde"/>
<rect x="152.40" y="342.00" width="46.00" height="1.00" fill="#92ccdc"/>
<rect x="152.40" y="343.00" width="46.00" height="1.50" fill="#92ccdc"/>
<rect x="152.40" y="344.50" width="46.00" height="1.00" fill="#97cfde"/>
<rect x="152.40" y="346.50" width="46.00" height="2.00" fill="#93cddc"/>
<rect x="152.40" y="348.50" width="46.00" height="2.00" fill="#9ad0df"/>
<rect x="152.40" y="352.30" width="46.00" height="12.00" fill="#90cbdc"/>
<rect x="152.40" y="358.80" width="46.00" height="1.50" fill="#94cddd"/>
<rect x="152.40" y="360.30" width="46.00" height="1.50" fill="#8dc9db"/>
<rect x="152.40" y="361.80" width="46.00" height="1.50" fill="#98cfdf"/>
<text x="27.50" y="373.60" font-size="9.8" fill="#222" text-anchor="middle">H3K4me3</text>
<text x="76.80" y="373.60" font-size="9.8" fill="#222" text-anchor="middle">H3K27me3</text>
<text x="126.10" y="373.60" font-size="9.8" fill="#222" text-anchor="middle">H3K9me3</text>
<text x="175.40" y="373.60" font-size="9.8" fill="#222" text-anchor="middle">Expression</text>
<defs><linearGradient id="gA" x1="0" y1="0" x2="0" y2="1"><stop offset="0" stop-color="#e8a6b9"/><stop offset="0.505" stop-color="#fbfbfb"/><stop offset="1" stop-color="#8ccadb"/></linearGradient><linearGradient id="gD" x1="0" y1="0" x2="0" y2="1"><stop offset="0" stop-color="#9fc7e6"/><stop offset="0.5" stop-color="#cfd0e9"/><stop offset="1" stop-color="#efd2dd"/></linearGradient><linearGradient id="gG" x1="0" y1="0" x2="0" y2="1"><stop offset="0" stop-color="#e5362b"/><stop offset="0.55" stop-color="#df7a76"/><stop offset="1" stop-color="#a6d8e9"/></linearGradient></defs>
<rect x="202.30" y="27.70" width="8.60" height="123.30" fill="url(#gA)"/>
<text x="213.60" y="51.50" font-size="9.6" fill="#222" text-anchor="start">1</text>
<text x="213.60" y="71.80" font-size="9.6" fill="#222" text-anchor="start">0.5</text>
<text x="213.60" y="92.80" font-size="9.6" fill="#222" text-anchor="start">0</text>
<text x="213.60" y="113.40" font-size="9.6" fill="#222" text-anchor="start">−0.5</text>
<text x="213.60" y="133.80" font-size="9.6" fill="#222" text-anchor="start">−1</text>
<text x="202.50" y="165.30" font-size="9.6" fill="#222" text-anchor="start">Zscore</text>
<text x="221.40" y="15.80" font-size="20" fill="#231815" text-anchor="start">C</text>
<line x1="273.50" y1="4.00" x2="273.50" y2="163.20" stroke="#333" stroke-width="0.9"/>
<line x1="273.50" y1="163.20" x2="399.60" y2="163.20" stroke="#333" stroke-width="0.9"/>
<line x1="271.30" y1="5.40" x2="273.50" y2="5.40" stroke="#333" stroke-width="0.8"/>
<text x="269.00" y="8.50" font-size="8.8" fill="#333" text-anchor="end">12.5</text>
<line x1="271.30" y1="40.40" x2="273.50" y2="40.40" stroke="#333" stroke-width="0.8"/>
<text x="269.00" y="43.50" font-size="8.8" fill="#333" text-anchor="end">10.0</text>
<line x1="271.30" y1="75.40" x2="273.50" y2="75.40" stroke="#333" stroke-width="0.8"/>
<text x="269.00" y="78.50" font-size="8.8" fill="#333" text-anchor="end">7.5</text>
<line x1="271.30" y1="110.40" x2="273.50" y2="110.40" stroke="#333" stroke-width="0.8"/>
<text x="269.00" y="113.50" font-size="8.8" fill="#333" text-anchor="end">5.0</text>
<line x1="271.30" y1="145.40" x2="273.50" y2="145.40" stroke="#333" stroke-width="0.8"/>
<text x="269.00" y="148.50" font-size="8.8" fill="#333" text-anchor="end">2.5</text>
<text x="247.20" y="83.40" font-size="9.5" fill="#222" text-anchor="middle" transform="rotate(-90 247.20 83.40)">log2 Bivalent RPM</text>
<path d="M297.90,48.90 L297.93,49.22 L297.97,49.66 L298.02,50.18 L298.08,50.76 L298.14,51.38 L298.20,52.00 L298.25,52.65 L298.28,53.37 L298.31,54.11 L298.37,54.87 L298.46,55.60 L298.60,56.30 L298.77,56.93 L298.96,57.51 L299.19,58.07 L299.47,58.65 L299.83,59.28 L300.30,60.00 L300.89,60.82 L301.59,61.73 L302.37,62.68 L303.20,63.66 L304.05,64.64 L304.90,65.60 L305.77,66.53 L306.68,67.47 L307.61,68.40 L308.54,69.33 L309.45,70.27 L310.30,71.20 L311.11,72.13 L311.90,73.04 L312.67,73.96 L313.40,74.88 L314.08,75.83 L314.70,76.80 L315.31,77.81 L315.92,78.85 L316.48,79.91 L316.95,80.97 L317.27,82.04 L317.40,83.10 L317.29,84.17 L316.97,85.26 L316.50,86.34 L315.96,87.41 L315.40,88.44 L314.90,89.40 L314.44,90.30 L313.96,91.15 L313.48,91.96 L312.98,92.73 L312.49,93.48 L312.00,94.20 L311.51,94.90 L311.00,95.57 L310.49,96.22 L309.99,96.84 L309.53,97.43 L309.10,98.00 L308.71,98.54 L308.35,99.06 L308.01,99.56 L307.71,100.03 L307.44,100.47 L307.20,100.90 L307.01,101.29 L306.87,101.63 L306.76,101.94 L306.67,102.26 L306.59,102.61 L306.50,103.00 L306.43,103.42 L306.37,103.84 L306.33,104.29 L306.28,104.79 L306.21,105.35 L306.10,106.00 L305.95,106.75 L305.79,107.57 L305.59,108.47 L305.38,109.41 L305.15,110.40 L304.90,111.40 L304.63,112.44 L304.33,113.54 L304.01,114.67 L303.67,115.82 L303.34,116.97 L303.00,118.10 L302.65,119.23 L302.29,120.37 L301.93,121.51 L301.56,122.63 L301.22,123.74 L300.90,124.80 L300.61,125.84 L300.34,126.87 L300.09,127.88 L299.86,128.85 L299.63,129.76 L299.40,130.60 L299.17,131.39 L298.95,132.13 L298.73,132.82 L298.53,133.44 L298.35,133.97 L298.20,134.40 L298.08,134.69 L297.99,134.86 L297.93,134.94 L297.87,134.96 L297.83,134.97 L297.80,135.00 L297.20,135.00 L297.17,134.97 L297.13,134.96 L297.07,134.94 L297.01,134.86 L296.92,134.69 L296.80,134.40 L296.65,133.97 L296.47,133.44 L296.27,132.82 L296.05,132.13 L295.83,131.39 L295.60,130.60 L295.37,129.76 L295.14,128.85 L294.91,127.88 L294.66,126.87 L294.39,125.84 L294.10,124.80 L293.78,123.74 L293.44,122.63 L293.07,121.51 L292.71,120.37 L292.35,119.23 L292.00,118.10 L291.66,116.97 L291.33,115.82 L290.99,114.67 L290.67,113.54 L290.37,112.44 L290.10,111.40 L289.85,110.40 L289.62,109.41 L289.41,108.47 L289.21,107.57 L289.05,106.75 L288.90,106.00 L288.79,105.35 L288.72,104.79 L288.67,104.29 L288.63,103.84 L288.57,103.42 L288.50,103.00 L288.41,102.61 L288.33,102.26 L288.24,101.94 L288.13,101.63 L287.99,101.29 L287.80,100.90 L287.56,100.47 L287.29,100.03 L286.99,99.56 L286.65,99.06 L286.29,98.54 L285.90,98.00 L285.47,97.43 L285.01,96.84 L284.51,96.22 L284.00,95.57 L283.49,94.90 L283.00,94.20 L282.51,93.48 L282.02,92.73 L281.52,91.96 L281.04,91.15 L280.56,90.30 L280.10,89.40 L279.60,88.44 L279.04,87.41 L278.50,86.34 L278.03,85.26 L277.71,84.17 L277.60,83.10 L277.73,82.04 L278.05,80.97 L278.52,79.91 L279.08,78.85 L279.69,77.81 L280.30,76.80 L280.92,75.83 L281.60,74.88 L282.33,73.96 L283.10,73.04 L283.89,72.13 L284.70,71.20 L285.55,70.27 L286.46,69.33 L287.39,68.40 L288.32,67.47 L289.23,66.53 L290.10,65.60 L290.95,64.64 L291.80,63.66 L292.63,62.68 L293.41,61.73 L294.11,60.82 L294.70,60.00 L295.17,59.28 L295.53,58.65 L295.81,58.07 L296.04,57.51 L296.23,56.93 L296.40,56.30 L296.54,55.60 L296.63,54.87 L296.69,54.11 L296.72,53.37 L296.75,52.65 L296.80,52.00 L296.86,51.38 L296.92,50.76 L296.98,50.18 L297.03,49.66 L297.07,49.22 L297.10,48.90 Z" fill="#e7aed3" stroke="#2a2a2a" stroke-width="0.8"/>
<line x1="297.50" y1="38.30" x2="297.50" y2="153.00" stroke="#111" stroke-width="0.9"/>
<rect x="295.40" y="79.30" width="3.80" height="21.70" fill="#fff" stroke="#111" stroke-width="0.8"/>
<line x1="295.40" y1="88.40" x2="299.20" y2="88.40" stroke="#111" stroke-width="1.1"/>
<rect x="296.20" y="134.00" width="2.6" height="5.00" rx="1.2" fill="#111"/>
<circle cx="297.50" cy="141.20" r="1.4" fill="#111"/>
<path d="M337.10,52.50 L337.12,52.66 L337.14,52.86 L337.18,53.11 L337.23,53.39 L337.34,53.69 L337.50,54.00 L337.72,54.32 L337.99,54.66 L338.31,55.02 L338.66,55.40 L339.06,55.79 L339.50,56.20 L339.98,56.62 L340.50,57.04 L341.07,57.48 L341.67,57.94 L342.32,58.45 L343.00,59.00 L343.74,59.60 L344.56,60.24 L345.41,60.93 L346.27,61.64 L347.11,62.40 L347.90,63.20 L348.66,64.05 L349.41,64.97 L350.15,65.92 L350.85,66.89 L351.51,67.86 L352.10,68.80 L352.63,69.71 L353.11,70.61 L353.54,71.51 L353.93,72.41 L354.28,73.34 L354.60,74.30 L354.89,75.32 L355.17,76.39 L355.40,77.49 L355.58,78.57 L355.68,79.62 L355.70,80.60 L355.62,81.47 L355.47,82.26 L355.24,83.01 L354.94,83.76 L354.60,84.58 L354.20,85.50 L353.74,86.53 L353.19,87.63 L352.59,88.78 L351.96,89.99 L351.32,91.23 L350.70,92.50 L350.07,93.84 L349.41,95.25 L348.74,96.70 L348.08,98.15 L347.46,99.56 L346.90,100.90 L346.40,102.15 L345.96,103.34 L345.54,104.49 L345.16,105.62 L344.78,106.75 L344.40,107.90 L344.02,109.07 L343.66,110.23 L343.31,111.40 L342.96,112.57 L342.63,113.73 L342.30,114.90 L341.98,116.07 L341.67,117.24 L341.38,118.41 L341.08,119.57 L340.79,120.74 L340.50,121.90 L340.20,123.09 L339.90,124.31 L339.61,125.53 L339.32,126.70 L339.05,127.81 L338.80,128.80 L338.58,129.69 L338.37,130.50 L338.18,131.24 L338.01,131.90 L337.85,132.49 L337.70,133.00 L337.56,133.42 L337.44,133.76 L337.33,134.01 L337.24,134.21 L337.16,134.37 L337.10,134.50 L336.30,134.50 L336.24,134.37 L336.16,134.21 L336.07,134.01 L335.96,133.76 L335.84,133.42 L335.70,133.00 L335.55,132.49 L335.39,131.90 L335.22,131.24 L335.03,130.50 L334.82,129.69 L334.60,128.80 L334.35,127.81 L334.08,126.70 L333.79,125.53 L333.50,124.31 L333.20,123.09 L332.90,121.90 L332.61,120.74 L332.32,119.57 L332.02,118.41 L331.73,117.24 L331.42,116.07 L331.10,114.90 L330.77,113.73 L330.44,112.57 L330.09,111.40 L329.74,110.23 L329.38,109.07 L329.00,107.90 L328.62,106.75 L328.24,105.62 L327.86,104.49 L327.44,103.34 L327.00,102.15 L326.50,100.90 L325.94,99.56 L325.32,98.15 L324.66,96.70 L323.99,95.25 L323.33,93.84 L322.70,92.50 L322.08,91.23 L321.44,89.99 L320.81,88.78 L320.21,87.63 L319.66,86.53 L319.20,85.50 L318.80,84.58 L318.46,83.76 L318.16,83.01 L317.93,82.26 L317.78,81.47 L317.70,80.60 L317.72,79.62 L317.82,78.57 L318.00,77.49 L318.23,76.39 L318.51,75.32 L318.80,74.30 L319.12,73.34 L319.47,72.41 L319.86,71.51 L320.29,70.61 L320.77,69.71 L321.30,68.80 L321.89,67.86 L322.55,66.89 L323.25,65.92 L323.99,64.97 L324.74,64.05 L325.50,63.20 L326.29,62.40 L327.13,61.64 L327.99,60.93 L328.84,60.24 L329.66,59.60 L330.40,59.00 L331.08,58.45 L331.73,57.94 L332.33,57.48 L332.90,57.04 L333.42,56.62 L333.90,56.20 L334.34,55.79 L334.74,55.40 L335.09,55.02 L335.41,54.66 L335.68,54.32 L335.90,54.00 L336.06,53.69 L336.17,53.39 L336.22,53.11 L336.26,52.86 L336.27,52.66 L336.30,52.50 Z" fill="#c39fd2" stroke="#2a2a2a" stroke-width="0.8"/>
<line x1="336.70" y1="39.30" x2="336.70" y2="154.80" stroke="#111" stroke-width="0.9"/>
<rect x="335.10" y="75.70" width="3.40" height="23.50" fill="#fff" stroke="#111" stroke-width="0.8"/>
<line x1="335.10" y1="85.10" x2="338.50" y2="85.10" stroke="#111" stroke-width="1.1"/>
<rect x="335.40" y="134.20" width="2.6" height="5.00" rx="1.2" fill="#111"/>
<circle cx="336.70" cy="143.70" r="1.4" fill="#111"/>
<path d="M376.80,46.30 L376.81,46.40 L376.81,46.52 L376.81,46.67 L376.85,46.86 L376.94,47.10 L377.10,47.40 L377.33,47.76 L377.61,48.18 L377.94,48.64 L378.33,49.16 L378.78,49.71 L379.30,50.30 L379.91,50.95 L380.62,51.66 L381.39,52.41 L382.18,53.18 L382.96,53.95 L383.70,54.70 L384.39,55.42 L385.07,56.11 L385.74,56.81 L386.40,57.52 L387.05,58.28 L387.70,59.10 L388.37,60.00 L389.05,60.96 L389.73,61.96 L390.37,62.98 L390.97,64.00 L391.50,65.00 L391.96,66.00 L392.37,67.02 L392.74,68.04 L393.05,69.04 L393.30,70.00 L393.50,70.90 L393.64,71.70 L393.71,72.42 L393.73,73.10 L393.70,73.78 L393.62,74.50 L393.50,75.30 L393.33,76.20 L393.10,77.16 L392.82,78.16 L392.50,79.18 L392.16,80.20 L391.80,81.20 L391.41,82.18 L390.98,83.17 L390.52,84.16 L390.05,85.14 L389.57,86.12 L389.10,87.10 L388.62,88.07 L388.13,89.04 L387.64,90.00 L387.14,90.96 L386.66,91.93 L386.20,92.90 L385.76,93.86 L385.33,94.80 L384.91,95.75 L384.50,96.72 L384.09,97.73 L383.70,98.80 L383.31,99.95 L382.92,101.16 L382.54,102.41 L382.17,103.69 L381.82,104.96 L381.50,106.20 L381.20,107.42 L380.93,108.64 L380.68,109.85 L380.44,111.06 L380.22,112.28 L380.00,113.50 L379.79,114.73 L379.60,115.96 L379.43,117.20 L379.25,118.44 L379.08,119.67 L378.90,120.90 L378.71,122.14 L378.52,123.39 L378.32,124.64 L378.14,125.87 L377.96,127.07 L377.80,128.20 L377.66,129.32 L377.52,130.46 L377.40,131.55 L377.29,132.56 L377.19,133.42 L377.10,134.10 L377.02,134.55 L376.96,134.80 L376.91,134.92 L376.86,134.95 L376.83,134.96 L376.80,135.00 L376.20,135.00 L376.17,134.96 L376.14,134.95 L376.09,134.92 L376.04,134.80 L375.98,134.55 L375.90,134.10 L375.81,133.42 L375.71,132.56 L375.60,131.55 L375.48,130.46 L375.34,129.32 L375.20,128.20 L375.04,127.07 L374.86,125.87 L374.68,124.64 L374.48,123.39 L374.29,122.14 L374.10,120.90 L373.92,119.67 L373.75,118.44 L373.57,117.20 L373.40,115.96 L373.21,114.73 L373.00,113.50 L372.78,112.28 L372.56,111.06 L372.32,109.85 L372.07,108.64 L371.80,107.42 L371.50,106.20 L371.18,104.96 L370.83,103.69 L370.46,102.41 L370.08,101.16 L369.69,99.95 L369.30,98.80 L368.91,97.73 L368.50,96.72 L368.09,95.75 L367.67,94.80 L367.24,93.86 L366.80,92.90 L366.34,91.93 L365.86,90.96 L365.36,90.00 L364.87,89.04 L364.38,88.07 L363.90,87.10 L363.43,86.12 L362.95,85.14 L362.48,84.16 L362.02,83.17 L361.59,82.18 L361.20,81.20 L360.84,80.20 L360.50,79.18 L360.18,78.16 L359.90,77.16 L359.67,76.20 L359.50,75.30 L359.38,74.50 L359.30,73.78 L359.27,73.10 L359.29,72.42 L359.36,71.70 L359.50,70.90 L359.70,70.00 L359.95,69.04 L360.26,68.04 L360.63,67.02 L361.04,66.00 L361.50,65.00 L362.03,64.00 L362.63,62.98 L363.27,61.96 L363.95,60.96 L364.63,60.00 L365.30,59.10 L365.95,58.28 L366.60,57.52 L367.26,56.81 L367.93,56.11 L368.61,55.42 L369.30,54.70 L370.04,53.95 L370.82,53.18 L371.61,52.41 L372.38,51.66 L373.09,50.95 L373.70,50.30 L374.22,49.71 L374.67,49.16 L375.06,48.64 L375.39,48.18 L375.67,47.76 L375.90,47.40 L376.06,47.10 L376.15,46.86 L376.19,46.67 L376.19,46.52 L376.19,46.40 L376.20,46.30 Z" fill="#9268b4" stroke="#2a2a2a" stroke-width="0.8"/>
<line x1="376.50" y1="37.70" x2="376.50" y2="155.50" stroke="#111" stroke-width="0.9"/>
<rect x="374.60" y="70.10" width="3.70" height="25.80" fill="#fff" stroke="#111" stroke-width="0.8"/>
<line x1="374.60" y1="81.20" x2="378.30" y2="81.20" stroke="#111" stroke-width="1.1"/>
<rect x="375.20" y="134.40" width="2.6" height="6.40" rx="1.2" fill="#111"/>
<circle cx="376.50" cy="144.00" r="1.4" fill="#111"/>
<line x1="297.50" y1="163.20" x2="297.50" y2="165.60" stroke="#333" stroke-width="0.8"/>
<line x1="336.90" y1="163.20" x2="336.90" y2="165.60" stroke="#333" stroke-width="0.8"/>
<line x1="376.30" y1="163.20" x2="376.30" y2="165.60" stroke="#333" stroke-width="0.8"/>
<path d="M297.50,36.60 L297.50,33.20 L336.90,33.20 L336.90,36.60" fill="none" stroke="#111" stroke-width="0.8"/>
<text x="317.20" y="31.30" font-size="8.7" fill="#111" text-anchor="middle">p=4.40e−06</text>
<path d="M297.50,27.00 L297.50,23.30 L376.30,23.30 L376.30,27.00" fill="none" stroke="#111" stroke-width="0.8"/>
<text x="336.90" y="21.40" font-size="8.7" fill="#111" text-anchor="middle">p=4.11e−28</text>
<path d="M336.90,14.10 L336.90,10.60 L376.30,10.60 L376.30,14.10" fill="none" stroke="#111" stroke-width="0.8"/>
<text x="356.60" y="8.80" font-size="8.7" fill="#111" text-anchor="middle">p=8.54e−12</text>
<text x="301.70" y="175.40" font-size="9.3" fill="#222" text-anchor="end" transform="rotate(-30 301.70 175.40)">Low bivalent</text>
<text x="341.10" y="175.40" font-size="9.3" fill="#222" text-anchor="end" transform="rotate(-30 341.10 175.40)">Medium bivalent</text>
<text x="380.50" y="175.40" font-size="9.3" fill="#222" text-anchor="end" transform="rotate(-30 380.50 175.40)">High bivalent</text>
<text x="402.30" y="15.40" font-size="20" fill="#231815" text-anchor="start">D</text>
<rect x="420.80" y="1.00" width="167.91" height="11.80" fill="#a6cbe5"/>
<text x="425.90" y="9.80" font-size="8.2" fill="#333" text-anchor="start">Breast cancer</text>
<rect x="420.80" y="14.35" width="156.33" height="11.80" fill="#a8cbe5"/>
<text x="425.90" y="23.15" font-size="8.2" fill="#333" text-anchor="start">Signaling pathways regulating pluripotency of stem cells</text>
<rect x="420.80" y="27.70" width="179.49" height="11.80" fill="#c6d0e9"/>
<text x="425.90" y="36.50" font-size="8.2" fill="#333" text-anchor="start">Proteoglycans in cancer</text>
<rect x="420.80" y="41.05" width="162.12" height="11.80" fill="#c8d1e9"/>
<text x="425.90" y="49.85" font-size="8.2" fill="#333" text-anchor="start">Wnt signaling pathway</text>
<rect x="420.80" y="54.40" width="86.85" height="11.80" fill="#d3d2e8"/>
<text x="425.90" y="63.20" font-size="8.2" fill="#333" text-anchor="start">Basal cell carcinoma</text>
<rect x="420.80" y="67.75" width="150.54" height="11.80" fill="#d3d2e8"/>
<text x="425.90" y="76.55" font-size="8.2" fill="#333" text-anchor="start">Hepatocellular carcinoma</text>
<rect x="420.80" y="81.10" width="138.96" height="11.80" fill="#d5d3e7"/>
<text x="425.90" y="89.90" font-size="8.2" fill="#333" text-anchor="start">Hippo signaling pathway</text>
<rect x="420.80" y="94.45" width="133.17" height="11.80" fill="#d6d3e7"/>
<text x="425.90" y="103.25" font-size="8.2" fill="#333" text-anchor="start">Gastric cancer</text>
<rect x="420.80" y="107.80" width="202.65" height="11.80" fill="#d8d4e6"/>
<text x="425.90" y="116.60" font-size="8.2" fill="#333" text-anchor="start">MAPK signaling pathway</text>
<rect x="420.80" y="121.15" width="86.85" height="11.80" fill="#e6d2de"/>
<text x="425.90" y="129.95" font-size="8.2" fill="#333" text-anchor="start">Endocrine resistance</text>
<rect x="420.80" y="134.50" width="92.64" height="11.80" fill="#e8d2dc"/>
<text x="425.90" y="143.30" font-size="8.2" fill="#333" text-anchor="start">TGF−beta signaling pathway</text>
<rect x="420.80" y="147.85" width="104.22" height="11.80" fill="#e9d2dc"/>
<text x="425.90" y="156.65" font-size="8.2" fill="#333" text-anchor="start">FoxO signaling pathway</text>
<rect x="420.80" y="161.20" width="86.85" height="11.80" fill="#e9d2dc"/>
<text x="425.90" y="170.00" font-size="8.2" fill="#333" text-anchor="start">Melanogenesis</text>
<rect x="420.80" y="174.55" width="144.75" height="11.80" fill="#e9d2dc"/>
<text x="425.90" y="183.35" font-size="8.2" fill="#333" text-anchor="start">Cytoskeleton in muscle cells</text>
<rect x="420.80" y="187.90" width="63.69" height="11.80" fill="#e9d2dc"/>
<text x="425.90" y="196.70" font-size="8.2" fill="#333" text-anchor="start">Notch signaling pathway</text>
<text x="420.80" y="212.80" font-size="8.0" fill="#4d4d4d" text-anchor="middle">0</text>
<text x="478.30" y="212.80" font-size="8.0" fill="#4d4d4d" text-anchor="middle">10</text>
<text x="535.80" y="212.80" font-size="8.0" fill="#4d4d4d" text-anchor="middle">20</text>
<text x="593.30" y="212.80" font-size="8.0" fill="#4d4d4d" text-anchor="middle">30</text>
<text x="522.00" y="223.50" font-size="9.8" fill="#111" text-anchor="middle">Gene Count</text>
<text x="610.00" y="45.20" font-size="10.1" fill="#111" text-anchor="start">−log10(P.adjust)</text>
<rect x="648.30" y="47.80" width="11.70" height="118.60" fill="url(#gD)"/>
<line x1="648.30" y1="66.60" x2="650.50" y2="66.60" stroke="#fff" stroke-width="0.6"/>
<line x1="657.50" y1="66.60" x2="660.00" y2="66.60" stroke="#fff" stroke-width="0.6"/>
<text x="664.60" y="68.90" font-size="8.8" fill="#333" text-anchor="start">7</text>
<line x1="648.30" y1="88.60" x2="650.50" y2="88.60" stroke="#fff" stroke-width="0.6"/>
<line x1="657.50" y1="88.60" x2="660.00" y2="88.60" stroke="#fff" stroke-width="0.6"/>
<text x="664.60" y="90.90" font-size="8.8" fill="#333" text-anchor="start">6</text>
<line x1="648.30" y1="110.60" x2="650.50" y2="110.60" stroke="#fff" stroke-width="0.6"/>
<line x1="657.50" y1="110.60" x2="660.00" y2="110.60" stroke="#fff" stroke-width="0.6"/>
<text x="664.60" y="112.90" font-size="8.8" fill="#333" text-anchor="start">5</text>
<line x1="648.30" y1="133.10" x2="650.50" y2="133.10" stroke="#fff" stroke-width="0.6"/>
<line x1="657.50" y1="133.10" x2="660.00" y2="133.10" stroke="#fff" stroke-width="0.6"/>
<text x="664.60" y="135.40" font-size="8.8" fill="#333" text-anchor="start">4</text>
<line x1="648.30" y1="154.70" x2="650.50" y2="154.70" stroke="#fff" stroke-width="0.6"/>
<line x1="657.50" y1="154.70" x2="660.00" y2="154.70" stroke="#fff" stroke-width="0.6"/>
<text x="664.60" y="157.00" font-size="8.8" fill="#333" text-anchor="start">3</text>
<text x="221.20" y="231.60" font-size="20" fill="#231815" text-anchor="start">E</text>
<path d="M271.6 374.5h0M297.8 365.7h0M312.6 374.9h0M273 365.8h0M299.7 369.6h0M303.7 356.1h0M271.2 360.8h0M274.8 361.2h0M301.7 371.7h0M294.5 377.9h0M293.2 365.9h0M274.7 371h0M287.3 368.1h0M293.7 362.8h0M312.7 362.3h0M324.1 338.3h0M293.8 360.6h0M286 342.3h0M304.1 372.4h0M291 375.6h0M274.2 360.9h0M274.3 334.6h0M351.4 371.6h0M272.2 377.6h0M279.6 379.9h0M277.9 375.6h0M287.1 372.2h0M282.8 365.6h0M298.9 372.2h0M280.9 377h0M296.7 368.9h0M273.3 373.5h0M300.6 365.4h0M273.4 363.6h0M279.4 363.8h0M305.3 375.5h0M286.1 374.5h0M280.4 374.5h0M276.3 368.9h0M290.4 375.3h0M275 377.8h0M285.3 375.4h0M281.7 375.2h0M290.6 376.8h0M284 351.4h0M272.2 377.8h0M280.9 378.6h0M299.9 374h0M289.9 380.3h0M280.7 334.9h0M320.4 356.3h0M291.7 364.1h0M274.5 368.2h0M289.6 380.1h0M278.5 364.6h0M286.3 373.4h0M285.2 376.7h0M282.9 371.9h0M278.4 370.2h0M281.5 378h0M305.7 365h0M288.9 379.5h0M272.7 373.3h0M297.1 378.5h0M277.4 374.9h0M287.5 368h0M276.8 378.7h0M288.3 360.8h0M281.9 374.5h0M276.3 352.2h0M289.4 371.1h0M278.6 373.4h0M286 370h0M273.6 379.5h0M311.2 374.9h0M290.4 378.4h0M294.3 352.8h0M309.9 358h0M293.5 379.7h0M287.7 378.6h0M289.4 356h0M307.8 356.8h0M288.1 368.9h0M277 376.9h0M269.4 357.8h0M300.9 373.5h0M283.4 379.3h0M288.5 362.6h0M282.1 371.7h0M293.8 378.6h0M293.2 372.3h0M283.1 377.8h0M278.9 375.6h0M298.1 362h0M279.5 373.6h0M303.5 367.1h0M270.4 371.9h0M274.2 378h0M286.6 378.3h0M304.7 370.6h0M311.7 370.1h0M278 359.6h0M285.5 376.9h0M272.8 363.8h0M279.7 377.7h0M300.2 375.7h0M307.3 374.2h0M270.7 379.2h0M279 376h0M299.3 379.6h0M285.9 372.9h0M276.9 369.8h0M298.6 375.5h0M305.5 354.5h0M300.3 375h0M292.8 376h0M303.3 368.9h0M290.6 360.5h0M270.2 369h0M289 377.6h0M294.9 364.3h0M274.6 367.8h0M284.5 375.6h0M270.2 359.1h0M297.9 375.7h0M274.1 371.1h0M274.2 375.3h0M307.2 373.5h0M279.5 378.9h0M278.4 355.1h0M275.9 377.8h0M301.9 348.9h0M288.2 367.8h0M281.4 370.4h0M278.3 377.5h0M270.5 351.9h0M274.9 369.5h0M311.1 361.5h0M315.9 365.7h0M308.4 363.1h0M270 370.5h0M279.1 380h0M295.6 364.8h0M322 351.1h0M292.6 379.3h0M270.4 370h0M273.6 359.1h0M280.9 351.4h0M285.1 357.4h0M288.1 379.2h0M283.6 362.3h0M292 372.9h0M278 357.4h0M293.3 377.3h0M273.5 374.5h0M290.8 367.4h0M285 372.3h0M269.7 377.4h0M277.3 372.7h0M271.6 373.8h0M276.5 380.2h0M271.4 372h0M279.4 366.7h0M274.7 360.1h0M274.6 354h0M287 376.6h0M277.3 350.2h0M275.1 363.4h0M277.8 379.8h0M281.8 351.8h0M272.6 378.9h0M286.7 358.9h0M299 372.6h0M274.2 376.4h0M295 360h0M274.9 371.6h0M291.2 371.8h0M278.6 365.7h0M286.7 375.1h0M287.3 379.3h0M279.7 368.9h0M272.4 379.4h0M269.9 378.3h0M276.6 377.1h0M274.9 373.4h0M298.1 366.6h0M283.7 380.2h0M272.7 377.6h0M291.2 376.8h0M282.5 367h0M272.7 375h0M315.4 370.8h0M285 370h0M295.7 374.3h0M295.4 358.8h0M282 365.4h0M290 376.9h0M302.6 335.5h0M284.8 367.1h0M292.5 355.2h0M274.7 376h0M273.5 360.5h0M278.8 370.7h0M305.8 375h0M269.8 379h0M288.1 373.4h0M291.5 361.7h0M279 370.5h0M292.9 374.2h0M275 375.9h0M282.8 379.8h0M272.5 356.1h0M309 371.6h0M274.6 379.8h0M280.3 373.4h0M292.6 365.9h0M276 376.8h0M271.5 371h0M309.5 368h0M271.5 365.6h0M273.1 364.4h0M281.5 373.5h0M297.8 377.2h0M298 368.9h0M334.1 371.8h0M293 373.1h0M294.1 368.1h0M315.9 369.7h0M282.1 379h0M317.9 372.4h0M315.2 363.7h0M304.6 373h0M276.7 375.6h0M269.5 379.4h0M333.1 367.4h0M296.7 378.8h0M287.3 369.6h0M271.4 377h0M299.9 377h0M308.3 362.4h0M275.4 374.3h0M321.2 374h0M312.4 373.2h0M282.6 298h0M304.7 373.8h0M272.7 354.7h0M297 372.1h0M275.8 367.9h0M281.1 380.4h0M288.6 362.9h0M337 366.7h0M288.1 375.2h0M293.9 373.9h0M288.8 340h0M293.4 375.6h0M281.4 372.6h0M327.5 367.6h0M297.2 372.1h0M271.8 379.5h0M292.1 379.2h0M301.7 373.1h0M280 369.7h0M290.3 373.5h0M296.3 367.6h0M307.2 375.8h0M277.6 370h0M305.7 346.5h0M277.4 372h0M283.8 370.9h0M339.8 371.9h0M310.4 375.9h0M321.8 368.2h0M313.4 368.2h0M284.1 378.6h0M315.9 364.8h0M318.9 375.5h0M310.7 378.4h0M302.6 372.7h0M298.9 377h0M304.3 376h0M285.1 362.2h0M276.2 364.1h0M303.3 366.6h0M276.6 354.1h0M272.2 371.6h0M275.1 363.2h0M317.7 347.6h0M331 358.1h0M299.3 369.1h0M294.4 367.8h0M278.1 357h0M285 380.4h0M314.8 357.6h0M273.3 369.2h0M291.7 375.1h0M277.1 368.6h0M291.4 379.3h0M295.1 373.3h0M288.9 368.6h0M274.5 359.6h0M284.8 379.1h0M269.5 372.5h0M298.5 373.6h0M270.3 363.1h0M296.3 369.1h0M325.6 371.9h0M271.2 369.4h0M276.7 359.1h0M282.3 367.5h0M290.2 372.1h0M293.5 366.6h0M269.9 376.2h0M279.8 364.3h0M295 367.1h0M282 375.2h0M285.6 356.9h0M276.9 364.6h0M272.7 353.1h0M311.5 366.7h0M299.9 372h0M283.2 374.6h0M269.5 378.8h0M286.4 380.3h0M271.6 380.6h0M303 378.7h0M325.8 356.1h0M285.4 356.1h0M275.9 363.9h0M290.7 361h0M270.3 365.2h0M285.1 368.3h0M281.1 371.2h0M305.2 356.7h0M278.6 360.3h0M285.5 365.6h0M300.2 370.9h0M292.9 370.6h0M276.5 365.5h0M291.1 360.8h0M282.9 375.6h0M275.7 369.9h0M303.1 368.2h0M318.8 371.1h0M294.6 368h0M305.3 370.5h0M291.5 370.3h0M304.9 376.5h0M305.5 368.6h0M295.7 373.6h0M307.8 356.2h0M309.9 375.8h0M295.8 361.2h0M275.8 366.8h0M273.1 368.2h0M283.5 370.6h0M312.3 376.4h0M290.3 370.3h0M308.6 366.4h0M305.7 364h0M310.9 363.1h0M289.1 370.2h0M287.3 371.5h0M284.3 369.2h0M277.7 350.4h0M301.8 379.6h0M269.9 368.3h0M290.7 369.1h0M289.9 376.6h0M317.3 343.2h0M287.6 362.1h0M290.6 356.8h0M296.5 374h0M295.1 357.6h0M284 367h0M285 365.3h0M279.4 372h0M297.2 336.9h0M291.1 346.5h0M306.1 355.8h0M301.2 367.7h0M284.6 373h0M271.4 348.9h0M304.8 366.9h0M292 368.4h0M299.9 363.9h0M287.8 356.5h0M305.8 379.1h0M311.3 364.9h0M276.9 368.1h0M271.6 368.5h0M311.8 373.8h0M330.1 374.4h0M297.3 370.5h0M307.6 375.6h0M316.2 364.7h0M276.3 354.7h0M303.5 361.2h0M298.7 358.1h0M328.5 374.3h0M280.6 349.6h0M304 374.8h0M273.9 380.2h0M286.3 366.1h0M335.2 345.7h0M282.2 369.8h0M296.4 377.5h0M275.3 364.1h0M310.6 368.8h0M305.4 362.1h0M299.2 371.4h0M272.8 362h0M270 374.5h0M288.6 372.7h0M281.9 361.4h0M316.1 365.3h0M271.7 361.4h0M278.7 361.4h0M299.4 378.5h0M275.6 367.1h0M305.4 377.7h0M289.3 366.1h0M295.9 375h0M293.8 376.9h0M296.6 372.8h0M289.2 374.8h0M315.1 364.6h0M269.8 376.7h0M273.6 366.5h0M271.2 353.4h0M308.9 352.3h0M297.2 360.9h0M304.8 361.8h0M303.5 374h0M319 375.8h0M269.6 376.2h0M272.2 380.4h0M293.8 376.4h0M287.6 364.6h0M270.3 380.2h0M293.8 376.1h0M314.8 363.3h0M292 379.8h0M280 367.6h0M295.3 370.5h0M328.3 376.2h0M302.9 364.8h0M295.3 376.8h0M306.3 366.8h0M297.7 362.3h0M303.3 361.4h0M280.5 367.7h0M279.2 367.4h0M294 378.7h0M313.5 373.9h0M269.6 375.8h0M291.1 357.1h0M284.2 354.1h0M281 365.1h0M306.9 377.2h0M270.2 361.4h0M281.7 380.4h0M315.2 377.6h0M291.9 365.9h0M294.2 368.4h0M306 364.4h0M295.4 356.7h0M279.6 360.4h0M296 359h0M286 358.5h0M280.9 380.7h0M305.7 368.5h0M280.5 366.9h0M282 331.9h0M297.8 348h0M310.8 368.9h0M293.9 378.9h0M289.4 362.7h0M282.7 349.7h0M312.8 377.2h0M277.9 363.2h0M296 378.7h0M278.1 366.1h0M316 370.5h0M325.3 376.1h0M270.1 362.9h0M290.5 355.3h0M307.9 374.2h0M274.6 343.8h0M310.9 372.1h0M298.5 356.2h0M303.4 361.7h0M284.8 365.2h0M316.4 373.6h0M320.5 369.8h0M313 375.4h0M287.6 357.3h0M289.5 363h0M278.6 360.4h0M283 364.9h0M305.2 353.2h0M280.4 362.8h0M275.3 380.2h0M284.2 352.8h0M305.3 371.6h0M271.7 366h0M303.4 376.8h0M302 356.3h0M269.5 369.9h0M314.3 376.2h0M306.3 370.8h0M308.2 374.5h0M269.6 371.6h0M271.2 368.5h0M293.6 372.4h0M320.9 358.4h0M322.4 376.7h0M279.6 352.2h0M270.4 358.6h0M272 338.3h0M280.9 364.7h0M313.5 360.7h0M333.8 368.4h0M285.7 354.7h0M276.5 380.5h0M272.5 361.1h0M308.8 342.8h0M273.5 380.6h0M299.8 332.8h0M308.4 374.8h0M276.4 363.8h0M318.8 372.8h0M316.6 363.5h0M277.7 358.4h0M295.9 379.3h0M330.9 358.6h0M310.8 370.1h0M301.2 375.4h0M282.6 380.6h0M308.4 371.9h0M278.4 359.6h0M325.8 370.4h0M288 347.9h0M316.5 370h0M315.4 366.4h0M303.4 374.9h0M306.6 372h0M302.7 345.2h0M283.9 357.6h0M313.1 371.3h0M272.3 358.4h0M294.3 348h0M302.4 376.2h0M282.3 345.1h0M312.2 368.2h0M271.5 366h0M301.8 377.7h0M269.5 375h0M315.7 378h0M307 367.5h0M327.7 375.2h0M274.7 361.8h0M275.8 353h0M274.4 353.1h0M274.7 355.9h0M276.1 380.7h0M296 361.7h0M279.6 357.9h0M276.8 337.4h0M281.3 357.7h0M289.1 366h0M330.5 372.6h0M274.2 365.3h0M286.9 358.2h0M302.4 364.1h0M275.5 380.4h0M270.7 364h0M313 373.5h0M305.6 364.2h0M270.3 359.4h0M302.3 368h0M297.1 362.3h0M287.5 380.2h0M277.1 380.5h0M303.7 364.8h0M299.1 356.4h0M285.1 360.3h0M304.5 357.2h0M297.8 361.6h0M274.2 348.4h0M273.3 380.5h0M279 339.5h0M285.3 360h0M316.8 376.6h0M306.3 353.9h0M275.8 363.4h0M292.5 361h0M301.6 374.4h0M284.9 364.2h0M333.5 376.6h0M269.9 358h0M297.2 379.8h0M316.7 360.7h0M269.5 371h0M317.3 368.1h0M277.8 345.2h0M317.1 377.3h0M300.8 369.6h0M275.7 361.4h0M282.3 355.9h0M284.9 360.4h0M293.5 371.8h0M326.1 369.5h0M277 360.8h0M316.9 375.2h0M309.5 373h0M334.7 376.3h0M292.7 359.9h0M321.5 359.9h0M308.1 378.6h0M310.2 377.4h0M292.8 359.4h0M296.8 365.3h0M285.6 359.8h0M275.7 356.3h0M319.5 369.5h0M287.2 360.1h0M269.8 351.1h0M310.2 377.3h0M328.9 365.6h0M302.4 363.6h0M270.3 364.2h0M275.2 359h0M307 365.7h0M315.2 378.6h0M272.8 358.3h0M314 372.2h0M283.1 357.1h0M311.8 326h0M323.2 365.9h0M285.4 363.8h0M304.9 357.7h0M287.7 367.6h0M290.6 365.6h0M322.7 374h0M311.5 361.3h0M316 366.9h0M271.6 358h0M317.3 362.1h0M290 357.9h0M273.2 356.9h0M276.8 363.1h0M270.6 380.6h0M298.8 358.6h0M283.9 363.8h0M299.8 367.1h0M317.9 374.3h0M269.5 365.5h0M282.7 363.6h0M293.2 354.4h0M300.8 370.5h0M279.7 380.2h0M294.5 353.6h0M280.6 360.8h0M319.6 376.6h0M284.1 356.7h0M294.3 379.2h0M282 360.2h0M318.9 377.5h0M314.4 371.9h0M302.8 367.3h0M274.6 350.6h0M287.2 351.7h0M323.3 358.6h0M291.6 350.8h0M270.6 355h0M280.5 356.6h0M294.2 364.9h0M341 363.8h0M299.6 359.3h0M306.4 348.7h0M342.5 376.2h0M316.1 373.4h0M286.1 363.1h0M313.5 377.8h0M294.8 379.5h0M288.8 360.6h0M302.7 364.8h0M308.5 378h0M319.9 366.5h0M269.5 344.8h0M320.2 354.4h0M281.7 359.4h0M331.6 363.6h0M315.9 370.8h0M309.3 368.2h0M293.1 340.7h0M286.3 354.7h0M319.5 377.6h0M293.6 365h0M269.5 360.2h0M281.4 358.2h0M287.9 380.5h0M277.3 351.2h0M285.9 380.5h0M304.9 354.3h0M293.1 379.8h0M269.7 368.4h0M307.8 361.5h0M295.5 380h0M316.8 363.6h0M317.2 377.4h0M299.9 379.4h0M296.6 362.6h0M284.6 360h0M326.1 366.7h0M278.8 379.9h0M330.1 374.2h0M310.2 378.7h0M271.6 366.6h0M320.3 372.5h0M304.7 364.5h0M301.7 370h0M297.5 367.5h0M309.2 343.4h0M292.6 357.6h0M294.5 358.1h0M309 374h0M271.8 350.2h0M289.5 360.2h0M270.3 366.6h0M331.6 375.7h0M271 350.6h0M323.5 364.5h0M312 377.9h0M322.1 373.3h0M317.7 371.3h0M282.3 361.6h0M269.5 370.5h0M273.9 346.3h0M278.4 348.7h0M303.2 378.5h0M269.6 358h0M320.8 338.2h0M306.7 368.8h0M327.7 376.6h0M315 370.6h0M313.7 378h0M311.8 363.9h0M330.1 365.1h0M278.6 380h0M306.2 360h0M317.1 363.1h0M272.5 342.9h0M313.9 366.2h0M339.3 341.2h0M320.9 372.7h0M274.8 357.7h0M299.1 349.4h0M320.4 374.5h0M324.5 377.8h0M277.8 347.6h0M313.6 356.5h0M300.5 346.5h0M313.2 368.4h0M269.5 366.9h0M321.7 374h0M291.2 379.8h0M309.8 371.1h0M303.2 369.5h0M292.4 353.1h0M307.8 379h0M278.3 354.3h0M309.3 351.5h0M316.5 372.4h0M269.5 368.7h0M318.1 362.3h0M290.3 345.3h0M332.4 367.8h0M309.1 377.1h0M304.5 353.2h0M296.8 365h0M308.1 365.6h0M269.6 373h0M309.5 355.7h0M292.2 350.7h0M288 355.2h0M326.3 370.6h0M280.6 353.4h0M279 359.9h0M272.7 343.3h0M292.7 357.6h0M280.3 351.2h0M283.8 348.4h0M275.7 351h0M276.2 357.5h0M320.6 353.7h0M298.1 349.9h0M310.4 379h0M308.4 342.8h0M290.7 351.5h0M308.6 371.8h0M316.1 375.5h0M310.9 366h0M281.1 336.8h0M298.9 366.3h0M289.2 380.2h0M337.6 374.6h0M269.8 364.4h0M287.1 361.2h0M282.7 337.9h0M303.6 372.1h0M314.6 367.9h0M296.6 364.6h0M325.2 371.1h0M279.4 347h0M307.2 359h0M296.9 332.8h0M304.9 362h0M308.7 357.1h0M321.5 364.9h0M326.5 365h0M342.5 355.7h0M300.8 366.4h0M279.1 380.3h0M277.9 350.8h0M269.6 380.6h0M289.1 363.4h0M324.1 360.2h0M337.4 367h0M319.3 369.3h0M275.1 344.3h0M279.9 356.6h0M319.8 361.1h0M287.7 333.5h0M325.3 375.2h0M274.9 380.4h0M276.9 343.4h0M321.6 377.3h0M274.7 380.5h0M314.3 349.4h0M303.2 378.8h0M289.3 359.7h0M315.2 362.8h0M301.8 346.6h0M277.5 357.1h0M291.5 349.6h0M339.8 374.5h0M309.1 354.6h0M316.2 366.3h0M327.8 375.1h0M269.7 335.5h0M318.6 370.5h0M342.5 345.4h0M291.3 345.6h0M284.8 353.7h0M269.5 377.7h0M325.4 373h0M308.5 360.9h0M317.9 361.2h0M283.1 357.8h0M297.9 358.3h0M332.9 376.8h0M327.9 369.4h0M314.6 378.8h0M316.2 337.3h0M333.6 370.5h0M297.5 363.3h0M321.7 377.4h0M321.1 372.5h0M276.3 346h0M270.3 354.5h0M283.1 360.5h0M319.1 358.8h0M297.9 360.9h0M299.4 365.7h0M303.6 362.3h0M316.2 358.9h0M278.2 353h0M317.8 377.7h0M316.4 378.2h0M332.1 369.7h0M330.5 365.9h0M269.7 374.2h0M332.8 370.6h0M319.4 375.9h0M322.8 375.7h0M310.3 369.3h0M273.1 351.8h0M304.3 378.4h0M331.8 373.7h0M331.1 334.6h0M283.2 350.6h0M314.5 376.2h0M269.4 380.2h0M282.1 343h0M318.7 378.2h0M323.3 377.8h0M309 353.7h0M290.6 353.6h0M300.5 359.7h0M304.2 357.6h0M276.2 338.1h0M278.7 349.8h0M274.2 380.5h0M270.9 355.9h0M297.5 357.9h0M335.8 369.8h0M298.4 364h0M322.3 358.8h0M278.3 380.2h0M285 352h0M304.2 379.3h0M299.1 379.5h0M312.5 357.7h0M311.9 357.9h0M313.8 375.2h0M288.9 380.4h0M308.2 368.5h0M282.9 358.7h0M300.6 355.4h0M326.7 371.2h0M290.3 347.3h0M280.4 380.7h0M282.9 380.4h0M282.5 380.7h0M297.5 379.8h0M341.7 361.2h0M308.3 369.9h0M287.2 336.6h0M288.5 360.1h0M297.9 356.9h0M289.9 353.1h0M308.8 378.2h0M323.6 376.6h0M303.3 362.6h0M281.7 349.3h0M311.1 365.7h0M330.1 373.4h0M324.4 374.2h0M272.8 345h0M321.9 372h0M326.6 366.7h0M317.4 378.4h0M336.7 376.6h0M291 337.6h0M299.7 339.1h0M280.4 348.5h0M275.5 335.7h0M288.4 350.4h0M274.4 380.7h0M314.4 373.7h0M310.4 364.2h0M292.3 359h0M316.5 378.4h0M303.7 361.1h0M277.3 344.8h0M287.9 359.3h0M320.3 371.2h0M271.6 346.8h0M312.8 360.5h0M306.3 364.2h0M302.1 363.3h0M322.3 364h0M274 349.3h0M280.4 360.6h0M335.3 372.7h0M296.8 379.9h0M301.8 361.7h0M299.4 362.7h0M282.2 380.7h0M311.5 352.1h0M299.1 330h0M294 352.7h0M277.4 349.2h0M269.6 350.5h0M303.8 357.6h0M317.6 369.5h0M284.5 355.5h0M280.4 334.9h0M300.2 361.1h0M309.2 358.4h0M313.2 348.5h0M306 348.4h0M269.8 359.3h0M284.1 350.4h0M277.8 337h0M310.9 360.7h0M276.9 346.6h0M308 352.7h0M315.6 359.5h0M308.6 362.8h0M283.5 352.6h0M323.7 373.6h0M271.4 348.1h0M281.3 347.5h0M296.9 379.9h0M269.6 373.4h0M300.3 348h0M295.8 379.9h0M319.4 366.5h0M269.9 361.4h0M306.5 358.9h0M312 366.7h0M273.5 380.7h0M283.8 380.4h0M270.7 356.3h0M317.4 364.7h0M277 349.7h0M304.6 361.1h0M301.9 361.8h0M341.2 353.1h0M270.7 352.5h0M281.2 342.2h0M287.2 327h0M300 343.9h0M328 372.2h0M304.1 355.8h0M324.4 368h0M338.7 352.8h0M275 343.3h0M335.4 367.9h0M300.4 356.9h0M312.2 347.6h0M287.6 348.1h0M320.4 377.9h0M314.9 360.5h0M321.2 376.4h0M269.6 361.8h0M296.2 349.4h0M284.4 355.3h0M310.5 341.2h0M307.4 362.7h0M272.2 380.7h0M290.2 347.6h0M289 350.8h0M282 347.1h0M315.1 357.6h0M322.2 361.4h0M305.9 378.9h0M310.8 378.9h0M335.3 353.6h0M296.2 353.2h0M310.1 355.1h0M285.8 354.3h0M335.1 373.9h0M303 342.7h0M295.3 354h0M273.4 347.9h0M325.3 367.2h0M345.9 361.5h0M301.9 358.7h0M309.8 361.8h0M279.2 380.5h0M309.9 378.9h0M297.1 346.7h0M270.2 339.8h0M322.8 363.9h0M277.5 349.1h0M315.3 349.1h0M316.2 351h0M328.3 377.9h0M283.8 341.9h0M299.8 353.4h0M288.1 345.4h0M278.1 346h0M322.9 371h0M314.2 365.3h0M286.5 352.3h0M269.5 369h0M299 348.8h0M295.5 345h0M322.7 366.8h0M351.5 374.5h0M313.9 370.6h0M324.7 371.7h0M294 352h0M294.6 379.9h0M302.6 344.1h0M306.6 357.3h0M302.5 366.4h0M306.2 379.1h0M287.3 348.9h0M288.7 342.8h0M303 338.5h0M298.7 302.6h0M276.7 302h0M324.6 363.7h0M314.3 337h0M277 324.2h0M279.8 335.3h0M269.6 371.8h0M276.1 316.4h0M296 348.1h0M273.4 332.6h0M307.2 342.3h0M273.2 337.4h0M269.6 340.4h0M273.1 337h0M280 344.2h0M269.6 342.7h0M276.4 309.9h0M273 339.8h0M283.5 354.4h0M270 339.5h0M270.7 340h0M271 327.9h0M270.5 340.6h0M277.8 314.3h0M270 349.7h0M283 345.7h0M289.8 350h0M270.5 333.7h0M282 341.4h0M277.3 338.2h0M273.7 339.9h0M278.5 334.7h0M289.9 349.7h0M276.5 343.2h0M286.7 348.9h0M273.2 300.3h0M269.4 363.7h0M274.5 309.6h0M285.4 325.2h0M270.6 355.8h0M274.9 350.6h0M293.7 333.2h0M294.8 341.2h0M278.2 344.7h0M271.9 342.2h0M269.5 355.9h0M281.4 327.7h0M270.9 341h0M273.5 338.3h0M278.3 331.5h0M271.2 336.6h0M273.4 331.6h0M290.1 345h0M270 355h0M272.1 340.3h0M271.5 347h0M270.4 348.2h0M294.2 335.2h0M285.6 343h0M274 343h0M285.5 336h0M276.6 348.1h0M290.2 327.2h0M270.5 344.3h0M277.3 334.6h0M274.5 319.5h0M280.7 346.8h0M289.1 335.5h0M283.3 322.8h0M280.1 341.2h0M270.9 347h0M285.8 337.9h0M269.9 313.9h0M269.7 354.8h0M281.6 307.4h0M298.8 355.2h0M274.5 349.5h0M269.9 353h0M291.4 323.9h0M271.1 311.9h0M275.4 338.4h0M276.9 333.9h0M273.4 336.1h0M301.8 353.1h0M290.6 336.6h0M279.3 302.3h0M294 287.5h0M274.2 329.7h0M271.3 320.2h0M275.8 334.7h0M271.5 345.2h0M269.6 354.3h0M276.4 330.5h0M270.1 325.9h0M277 331.1h0M275.8 338.5h0M282.9 332.3h0M271 329.6h0M273.1 339.9h0M270.6 346.5h0M281.8 330.7h0M289.1 352h0M288.6 348.8h0M282.5 355.5h0M292.7 326.1h0M283.1 321.1h0M296.7 341h0M304.1 332.1h0M305.4 291h0M282.3 352.7h0M304.9 359.3h0M274.5 348.4h0M273.9 323.2h0M276.6 327.3h0M279 330.2h0M280.2 327.5h0M270 324.3h0M273.9 328.1h0M269.9 346.2h0M285.2 335.6h0M275.2 331.6h0M272.7 329.9h0M273.5 329.6h0M278.7 344.9h0M295.2 318.7h0M297.8 360.7h0M287.4 351.9h0M273.8 333.8h0M277 339.4h0M274.6 342.8h0M279 355.3h0M281.3 330.7h0M273 335.2h0M273.6 336.4h0M308.2 335.8h0M278.5 338.4h0M311.1 348.3h0M313 353.3h0M293.2 348.6h0M272.4 327.6h0M282.2 355.8h0M282.7 331.9h0M294.3 292.1h0M284.5 339.7h0M287.3 352.9h0M287.9 344.7h0M275.1 333.5h0M270.1 335.9h0M298.6 333.6h0M279.5 336.3h0M277.8 329.7h0M307.2 338.5h0M272.2 333.7h0M289.2 310.5h0M274.7 336.3h0M275.2 298h0M277.1 327.6h0M300.1 340.7h0M269.5 350.9h0M283.3 317.6h0M286 329.8h0M305 319.7h0M278.7 341.4h0M285.4 336.3h0M278.6 344.5h0M269.6 333.9h0M295.6 339.6h0M271.6 320.1h0M277.1 251.8h0M270.4 289h0M277.5 312.2h0M272.3 335.1h0M302.7 332.2h0M280.3 304.1h0M313.6 354.9h0M276.6 341.8h0M280.9 326.2h0M269.5 357.5h0M285.5 346.4h0M279.2 328.9h0M292.3 331.1h0M280.6 332h0M274.4 339.9h0M273.3 315.5h0M272.8 330.5h0M282.9 331.9h0M274.7 329.4h0M274.9 325.1h0M293.4 356h0M280.3 341.7h0M275.4 348.6h0M278.1 340.2h0M280.8 356.6h0M295.7 344.8h0M273.4 313.8h0M286.4 350.1h0M284.2 328.5h0M295 345.8h0M275.9 342.2h0M286.1 332.6h0M276.7 322.2h0M276.5 326.5h0M272.2 326.4h0M269.5 366.7h0M273.5 342.8h0M294.4 343.7h0M269.5 359.3h0M270.3 317.5h0M284 343.8h0M279.4 344.1h0M288.9 353.2h0M271.4 338h0M269.7 312.5h0M295.5 348.9h0M269.8 341.3h0M304.8 342.4h0M295.3 316.8h0M284.7 350.1h0M281.1 330.8h0M272 315.1h0M269.6 367.6h0M291.6 338.7h0M285.6 330.8h0M271.2 326.5h0M282.4 326.8h0M269.5 327.6h0M269.7 326.7h0M284.1 303.3h0M275.6 329.8h0M296.9 342.7h0M291 334.9h0M276 329.5h0M275.2 301.6h0M274.6 341.7h0M282.9 335.6h0M304.5 351.7h0M316 341h0M286.2 335.5h0M284.8 315h0M317.8 356.6h0M292.6 314.3h0M289.5 336.2h0M269.6 365.7h0M269.6 344.1h0M283.1 340.7h0M282.5 337.8h0M280.5 338.4h0M285.7 339.4h0M274.4 314.3h0M269.8 351.4h0M292.3 342.6h0M303.1 303.6h0M272.1 307.9h0M292.6 345.6h0M270.1 327.8h0M285.1 348.1h0M270.3 348.7h0M271.6 279h0M306.6 347.9h0M279.3 317.9h0M276.3 324.2h0M277.6 321.9h0M272.3 313.6h0M280.1 355.3h0M279 317.9h0M305.5 351.3h0M281.5 290.2h0M303.6 355.6h0M324.2 317.6h0M299 352.2h0M276.3 328h0M327.1 362.4h0M279.2 326.3h0M287.8 337.6h0M285.1 337.9h0M271.6 320.4h0M311.6 360.1h0M288.2 340.1h0M287.7 316.3h0M283.2 335h0M275.5 332.6h0M276.2 347.1h0M284.1 322.3h0M274.3 309.1h0M273 302.1h0M269.5 353.6h0M269.5 360.9h0M269.4 364.1h0M289.6 310h0M296.7 343.1h0M270.5 328.3h0M280.9 353.4h0M269.8 352.8h0M273.3 332h0M282.5 321.7h0M311.3 339.4h0M287.7 335.6h0M295.4 350.1h0M270.1 328.3h0M290.6 313.9h0M284.6 332.7h0M269.8 333.2h0M273.8 318.2h0M270.3 338.5h0M275.3 341h0M283.6 338.5h0M269.8 326.6h0M300.9 338.2h0M271.7 319.9h0M285.6 343.9h0M278.2 326.3h0M273.5 306.9h0M270.7 337.1h0M282.1 330.6h0M283.6 336.8h0M317.5 362.9h0M300.9 349.2h0M308.5 351.8h0M312.3 341.2h0M285 330.8h0M269.5 355.8h0M271.4 325.5h0M285.1 339.9h0M270.5 307.9h0M287.9 341.2h0M270.8 317.3h0M280.5 339.1h0M281.5 325h0M272 311.9h0M285 313.5h0M281.1 339.5h0M295 326.5h0M289.3 339.4h0M269.6 349.6h0M269.5 363.6h0M305.3 349.3h0M294 341h0M299.9 354.9h0M269.6 357h0M269.5 334.4h0M272.4 307.6h0M270 348.5h0M281.3 332.7h0M269.6 341.7h0M273.4 320.5h0M305.5 344.4h0M284.3 346.2h0M295.6 328.1h0M289.9 324.9h0M284.8 306h0M293.4 346.3h0M305.5 335.8h0M310.9 360.5h0M309.8 360.4h0M289.1 314.3h0M302.5 343.1h0M270.2 276.8h0M270.9 320.7h0M293.6 348.9h0M274.7 327.7h0M279.8 332.1h0M324.7 355h0M301.3 338.1h0M313.6 343.2h0M311.8 356.7h0M313 358.3h0M317.5 359.3h0M324.2 318.6h0M306 329.5h0M310.6 350.7h0M313.4 326.3h0M302.8 344.6h0M307.4 327.3h0M319 341.4h0M338.9 326.4h0M330.3 343.7h0M324.3 297.8h0M315.7 318h0M326.6 358.9h0M351.8 350.4h0M328.4 354.1h0M312 325.2h0M321.9 305.3h0M307.6 355.5h0M311.1 356.1h0M323 346.7h0M314 345.7h0M317.6 322.6h0M345.1 334.3h0M347 337h0M317.2 346h0M336.2 350.4h0M302.5 327.8h0M351.8 356.9h0M335 337h0M301 324.8h0M299.2 300h0M345 355h0M304.1 284.9h0M322.4 352h0M318.1 327.8h0M341.6 352.2h0M348.8 364.6h0M328 356.4h0M356.7 358.4h0M315.2 356.2h0M310.2 319.5h0M307.3 350.5h0M337.2 358h0M313.7 340.4h0M310.5 346.3h0M312.7 352h0M328.9 353.7h0M320.3 354.8h0M329.6 358.1h0M339.4 357.6h0M314.2 354.3h0M298 341.2h0M330.7 351.4h0M322.5 345.2h0M344.4 340.7h0M354 352.2h0M329 331.4h0M322.8 356.2h0M316.8 353.5h0M322.9 356.1h0M325.8 359.4h0M333 359.7h0M321.4 345.1h0M324.4 323.2h0M309.9 340.5h0M306.8 345.7h0M303.3 346h0M319.4 328.9h0M315 341.1h0M304.1 326.3h0M343.9 350.4h0M312.8 353.5h0M331.8 318.8h0M314.8 337.5h0M345 352.4h0M334.7 350.3h0M299.4 351.4h0M319.7 351.5h0M311.9 345.2h0M304.5 329.6h0M321 353.9h0M316.4 356h0M325.6 352.2h0M297.6 360.4h0M321.1 338.2h0M326.9 347h0M302.9 316.8h0M317.3 350.4h0M324.4 329.3h0M313.9 330.2h0M344.8 298.9h0M312.3 352h0M349.6 333.7h0M308.6 343.6h0M308.2 342.1h0M328.1 352.8h0M316 350h0M315.1 350.3h0M308.4 311.3h0M298.1 343.5h0M321 351.6h0M305.7 327.9h0M302.8 354.8h0M321.1 330.3h0M347 346.4h0M360.4 357.1h0M314.6 343.4h0M320.2 330h0M364.4 364.2h0M319.7 355h0M299.6 323.7h0M312.4 342.7h0M312.4 340.8h0M329.6 357.4h0M322.3 335.9h0M325.4 309.8h0M306.5 329h0M315.6 354.4h0M302.8 330.6h0M321.6 357.6h0M301.9 336.6h0M308.1 306.6h0M316 332.7h0M332.3 350.1h0M327.1 341.7h0M330.7 335.8h0M329.3 343.6h0M306.4 332.2h0M319.2 345.8h0M348 351.1h0M311.6 319h0M337.9 338.1h0M342.6 354.8h0M298.9 320.3h0M330.3 329.3h0M333.6 348.9h0M336.7 334.4h0M345.6 343.6h0M304.8 359.4h0M308.4 345.6h0M310.4 305.6h0M300.5 317.7h0M345.8 328.3h0M316.1 339.8h0M314.6 358.2h0M326.8 356.8h0M323.7 362.4h0M331.8 334.6h0M306.8 339.1h0M352 355.8h0M302.2 349.1h0M338.4 326.9h0M316.2 338.8h0M296.4 317.4h0M329.1 348.5h0M333.9 340.5h0M316.7 349.4h0M317.6 357h0M308.4 350.9h0M346.2 345.7h0M305.8 352.9h0M348.3 358.2h0M321.8 346.5h0M298.3 347.7h0M323.5 352.8h0M313.4 346.7h0M300.2 328h0M301 351.1h0M297.7 353.7h0M317.4 338.3h0M358.4 355.8h0M303.2 351.6h0M313.1 348.9h0M325.6 329.7h0M313.4 348.3h0M324.5 348.4h0M297.9 346.4h0M311.7 344.5h0M300.7 324.7h0M341.2 356.2h0M298.3 342.2h0M327.8 340.7h0M312.6 350.5h0M368.7 342.5h0M304.6 338.7h0M327.3 353.4h0M303.9 359.1h0M340.8 337.6h0M344.1 338.5h0M346.7 346.9h0M321.2 327.8h0M323.7 358.9h0M355.3 338.4h0M304.2 346.9h0M356.1 348.7h0M303.8 359.5h0M373.2 360.1h0M354.1 344.1h0M332.2 357.6h0M309.2 352.2h0M319.4 353h0M298.4 337.9h0M327.4 349.3h0M311.6 338.7h0M306.9 338.1h0M314.1 309.8h0M344.4 349h0M317.4 353.7h0M301.2 337h0M311.4 348.7h0M333.5 354.1h0M305.3 318.5h0M312.9 351.6h0M325.3 338.1h0M308 307.2h0M306.9 347.5h0M326.6 291.5h0M313.9 345.9h0M346.2 344.8h0M310.3 350.6h0M309.3 353h0M311.3 345.1h0M311.3 353.7h0M314.9 302.9h0M346.8 327h0M317 280.4h0M329.6 346.7h0M366.3 336.5h0M310 348.6h0M317.8 333.3h0M313.6 363.1h0M322 328.9h0M301.6 355.5h0M318.9 344.5h0M307.3 335.2h0M318.9 319h0M317.9 354h0M327.5 355.2h0M326.9 354.7h0M324.1 351.3h0M328.2 338.1h0M330 333.4h0M316.7 329.9h0M341.1 353.2h0M357.3 288.6h0M307.8 339.1h0M321.9 339.2h0M313.7 352.3h0M326 348.7h0M297.5 332.5h0M319.7 328.5h0M317.9 363.2h0M304.5 338.6h0M313.4 364.3h0M330.1 345.1h0M315.4 348.6h0M309.9 346.9h0M328.6 308.3h0M306.7 350.6h0M351.1 335.2h0M332.9 357.9h0M325.3 363.5h0M322.4 343.9h0M310.1 342.7h0M328.2 361.3h0M339.8 347.2h0M329.2 351.4h0M320.4 358.4h0M341.4 346.6h0M326.7 350.1h0M323.3 341.8h0M341 355.5h0M323.7 338.9h0M343.4 324.2h0M335.1 342.4h0M303.3 343.1h0M303.7 347.5h0M318.8 358.4h0M318.9 333.3h0M325.3 311.7h0M306.9 336.5h0M299.6 328.6h0M300.4 333.8h0M312 339h0M327 359.8h0M338.6 351.4h0M311 337.6h0M324.9 353.9h0M317.2 337.2h0M334.5 303.5h0M331.6 335h0M324 355.2h0M315.7 353.4h0M310.3 338.5h0M308.3 302.8h0M348.1 344.9h0M301.7 306h0M330.4 346.3h0M308.1 322.3h0M326.5 334.8h0M324.4 358.4h0M340.7 352.6h0M305.9 352.4h0M317.3 349.5h0M328.7 330.7h0M335.1 357.6h0M310.7 323h0M304 320.7h0M321.5 342.4h0M307.7 338.6h0M348.3 352h0M326.2 348.5h0M327.4 350.7h0M333.4 352.3h0M305.9 322.4h0M328.6 355h0M316.9 329.2h0M366.2 355.3h0M326.3 336.7h0M300.1 346.4h0M332.1 335.1h0M314.2 345.5h0M357.7 341.6h0M313.8 338.1h0M314 323.8h0M315.8 352.9h0M305.4 334.6h0M324.3 349.2h0M310.3 338.3h0M316.1 292.3h0M325.9 347.7h0M338.2 293.1h0M346.2 325.8h0M317.4 329.6h0M330.6 350.9h0M305.9 339.7h0M318.4 347.6h0M309.3 329.8h0M318.9 355.5h0M321.1 362.6h0M313.3 327.3h0M301.5 345.6h0M364.3 341.4h0M333.6 353.1h0M321.8 355.6h0M354.5 348.8h0M330.9 349.7h0M361.3 352.1h0M343.2 358.8h0M329.1 352.4h0M301.6 331.8h0M309.1 350.9h0M324.1 357.4h0M314.2 321h0M342.4 339.1h0M300.3 327h0M315.8 339.2h0M307.8 334.1h0M344.5 359.9h0M321.4 346.4h0M321.9 337.4h0M319.1 358.3h0M314.3 352.4h0M316.8 352.4h0M318.9 350.6h0M355.6 361.2h0M313.1 306.4h0M316.8 347.9h0M308.5 341.1h0M323.9 342.6h0M298.2 315.4h0M308.2 325.4h0M315.7 289.7h0M329.8 347.3h0M320.5 334.3h0M310 320.5h0M322.5 331.6h0M306.5 326.1h0M399.4 361.6h0M301.2 343.5h0M320.3 361.7h0M308 340.1h0M352.3 340.7h0M349.8 359.4h0M307 328.1h0M335.9 330.4h0M310.7 336.6h0M305.9 319.1h0M303.1 340.2h0M343.3 322.8h0M326.1 341.2h0M300.5 345.8h0M304.2 351.2h0M328.4 322.5h0M316.3 295h0M310.7 331.2h0M298.2 314.1h0M349.6 354.3h0M328 360.6h0M323.7 303.2h0M308 330.1h0M314.4 322.4h0M320.6 321.5h0M301.1 327.5h0M333.7 341.8h0M314.1 315.3h0M326.7 350.3h0M326.3 329.2h0M310.8 342.4h0M302.7 342.4h0M354.2 345.4h0M322 348.2h0M359.5 344.3h0M343.7 291.9h0M331.7 335.7h0M296.7 351h0M317.2 341.1h0M320 330.8h0M356.7 353h0M316.8 346h0M319.9 342.5h0M312.3 298.4h0M297.6 343.7h0M306.7 302.7h0M306 342.8h0M309.4 332.9h0M361.9 348.3h0M333 327.8h0M320.9 365.1h0M311.1 331.9h0M335.2 341.1h0M299.2 332.1h0M341.1 349.5h0M323.9 360.6h0M309.3 338.1h0M333.2 340.4h0M326.5 327.8h0M318.9 347.7h0M304.9 343.7h0M329.3 358.3h0M317.9 327.1h0M323.5 354.5h0M304.4 347.9h0M297.4 339.7h0M312.7 336.4h0M339.9 356.1h0M327.5 334.7h0M299.8 331.8h0M331.1 360.8h0M339.8 356.3h0M303.8 345.5h0M299.2 341.7h0M316.2 346h0M298.2 327.9h0M314.2 340h0M301.7 342.2h0M318 351.8h0M313.7 358.8h0M363 338.2h0M327.7 358.5h0M340.6 338.3h0M302.4 337.1h0M305 336.8h0M331.3 338.2h0M321.7 328h0M324.5 351.5h0M315.6 336.3h0M303.1 306.7h0M310.2 325.4h0M341.8 262.9h0M310.5 343.7h0M322.4 349h0M301 350.8h0M324.9 342h0M321.9 320.3h0M302.1 341.2h0M326.2 361.7h0M328.9 331.3h0M311.4 310.8h0M304.6 350.3h0M345 344.8h0M309.6 346h0M343.1 341.2h0M311.8 319.4h0M330.9 361.3h0M297.1 357.1h0M350.8 343.8h0M302.9 359.8h0M343.3 364h0M312 330.5h0M310.6 380.3h0M322.3 378.9h0M325.8 379.3h0M334.1 376.5h0M312.8 364.2h0M335.7 378.9h0M320.3 379.7h0M315.8 378.5h0M324.4 379.4h0M323.5 379.6h0M341.5 367.7h0M348.5 365h0M339.1 370.3h0M349 376.5h0M319.4 380.2h0M336.6 375.3h0M326.5 373.5h0M321.6 371h0M349.1 373h0M332.8 372.2h0M329.1 373h0M329.9 371.2h0M335.3 373.2h0M312.5 378.8h0M360.4 376.5h0M344.2 376.9h0M342.9 372.7h0M319.3 366h0M335.9 372h0M325.2 379.7h0M323.3 370.9h0M319.3 364.8h0M332.7 376h0M320.5 379.8h0M327.2 363.9h0M342.7 368h0M347.7 373.9h0M342.7 377.5h0M340.5 372.8h0M320.9 370.3h0M332.4 374.9h0M325.9 378.1h0M319.1 380.4h0M324.4 369.9h0M321 379.6h0M327.3 378.3h0M337.3 354.2h0M357 363.4h0M336.7 374h0M331.9 362.9h0M322.7 369.3h0M355.5 335.1h0M322.3 339.5h0M327.9 330.8h0M326.6 357.9h0M328.3 343.7h0M336.7 350.9h0M341.2 339.9h0M345.1 327.1h0M333.3 353.2h0M320.8 337.9h0M353.3 326.2h0M329.2 343h0M321.6 353h0M354 319.9h0M362.2 323.6h0M341.1 344.5h0M344 344.2h0M358.4 317.8h0M335.9 326.6h0M330 338.7h0M349.1 347.2h0M333.7 364.5h0M325.4 340.9h0M324.9 349.4h0M340.4 328.3h0M315.6 343.1h0M331.2 346.5h0M342.2 337.5h0M353.5 331.4h0M361.9 320.7h0M337.5 338.6h0M330.7 359.3h0M346.9 327.6h0M408.6 287h0M330.8 353.6h0M355.2 333.5h0M332.4 343.2h0M359.5 314.4h0M329.4 361.5h0M372.6 319.8h0M376.3 329.5h0M328.9 362.3h0M332.6 342.7h0M390.3 307h0M344 339.3h0M346.3 334.9h0M310.8 335h0M340 355h0M341.2 330h0M343.8 330h0M380.7 298.8h0M332.5 354.7h0M328.7 350.8h0M337.1 339.7h0M335.9 353.1h0M332.2 349.5h0M386.6 302.6h0M345.8 330.2h0M368 297h0M336.2 338.4h0M324.4 346.7h0M365.2 325.3h0M337.6 325.4h0M330.3 348.9h0M330.2 323.6h0M328.4 344h0M362.5 331.5h0M333.1 341h0M376.1 323.7h0M334.7 340.8h0M339.8 346.8h0M340.5 342.4h0M344.6 331.1h0M332.7 336.6h0M341.9 346.9h0M339.3 339.3h0M327.3 338.1h0M328 346.8h0M350 319.1h0M333.2 336h0M329.8 327.4h0M369 327.1h0M329.9 333.1h0M360 321.3h0M358 311.9h0M370 309.6h0M345.7 323.1h0M353.6 322.6h0M320.2 345h0M342.9 324h0M309.4 347h0M325.5 342.8h0M330.1 335.8h0M336.7 357h0M329.8 342.5h0M338.9 348h0M334.4 331.8h0M335.7 335.7h0M338.7 337.7h0M347.9 337.9h0M328.1 334.9h0M349.1 343h0M315.8 346.4h0M330.6 340.8h0M375.3 307.1h0M328.6 322.8h0M349 341.1h0M320.2 351.4h0M342.1 350.3h0M335.9 327.2h0M318.8 366.2h0M349.6 336.1h0M338 341.2h0M337.5 335h0M341.2 333.8h0M318.8 344h0M322.5 349.5h0M338.6 342.1h0M370.7 318.4h0M369.9 317.3h0M343.2 330.9h0M323.8 339.2h0M352 327.8h0M337.7 329.7h0M305.9 340.2h0M344.3 332.9h0M328.4 356h0M352.4 329.5h0M329 338.1h0M324 339h0M322.5 334.7h0M316.5 339.6h0M313.7 341.7h0M310.3 349.2h0M348.7 337h0M353.8 333.4h0M332.7 319.2h0M356.4 314.6h0M362.4 342h0M353.6 329.7h0M326.5 325h0M341.8 336.7h0M317.9 335h0M382.6 319.1h0M353.2 334.9h0M351.3 337.1h0M318.5 361.8h0M322.3 335.5h0M366.1 329.3h0M319.5 340.8h0M339.4 330.8h0M315.6 345.3h0M334.9 305h0M353.1 326.3h0M350.4 319.8h0M336.1 335.8h0M329.7 337.1h0M342.8 321.8h0M323.1 334.2h0M362.3 302.6h0M356.4 324.7h0M336.5 350h0M345.5 309.6h0M337.6 333.4h0M329 331.8h0M346.5 340.7h0M334.6 347h0M323.2 340.9h0M332.4 351h0M352.1 341h0M316.9 345.6h0M339.9 327.6h0M334.7 350.4h0M324.4 328.3h0M337.1 353h0M338 350.1h0M343.6 341.7h0M336.6 338h0M312.8 328.2h0M356.4 304.2h0M325.1 344.9h0M334.1 344.3h0M327.4 331.7h0M398.5 282.8h0M350.7 338.3h0M330.7 347h0M342.2 350.3h0M349.2 326.8h0M330.6 345.5h0M309.8 348.5h0M326.7 327.9h0M332.5 344.9h0M395.9 282.7h0M339.5 360h0M331.4 341.4h0M321.2 349.3h0M355.8 333.8h0M336.5 332.5h0M324.1 343.7h0M343 345.3h0M360 325.2h0M327.3 339.5h0M388.2 313h0M350.6 333.4h0M353.5 324.8h0M347.3 324.8h0M336.3 327.5h0M342 336.7h0M354.5 324.9h0M355 347.1h0M344.9 335.2h0M347.9 334h0M350.2 350h0M379.2 307.3h0M333.2 356.9h0M341.8 329h0M321.6 340.4h0M320.2 343.1h0M343.6 353.9h0M332.1 338.3h0M330.9 340h0M344.1 319.1h0M343.1 333.6h0M350.2 343.5h0M339.9 331.1h0M333.6 358.2h0M310.8 365.8h0M358.5 304.8h0M420.5 225.4h0M371.1 230.7h0M362.3 234.2h0M364.4 238.5h0M335 236.4h0M393.5 241h0M349 242.1h0M345.7 246.1h0M344.8 248h0M354.6 248h0M362.3 248h0M368.4 248.6h0M326.5 244.8h0M311.7 246.1h0M330.1 253h0M377.6 257.5h0M339.3 257.1h0M343.1 260h0M346.7 260.4h0M340.3 261.9h0M305.4 257.1h0M308.2 261.9h0M305.4 264.7h0M300.5 266.4h0M313.6 265.9h0M340.1 270.2h0M396.2 274.6h0M359.7 275.9h0M310.8 275.9h0M316.9 274.3h0M305.5 278h0M325.4 278h0M348.1 280.9h0M310.5 282.4h0M312.6 283.8h0M315.4 286h0M409.6 290.1h0M410.9 307.2h0M382.2 299.1h0M375.1 285.3h0M372.9 289.6h0M393 311.8h0M382.9 321.8h0M382.9 326.1h0M376.5 318.8h0M375.1 323.2h0M384.5 349.2h0M390.7 352.4h0M393.5 346.6h0M418.5 375.8h0M381.6 374.3h0M373.7 372.3h0M365.1 369.5h0M365.1 361.2h0M359.5 377.2h0M292.2 287.3h0M279.9 295.5h0M275 302.8h0M368 295.5h0M363.7 301.3h0M331.1 289.6h0M326.8 294h0M318.3 292.6h0M342.4 288.2h0M353.8 298.4h0M356.6 307.2h0M302.7 288.2h0M297 292.6h0" fill="none" stroke="#5384b0" stroke-width="2.6" stroke-linecap="round"/>
<line x1="270.00" y1="223.95" x2="270.00" y2="399.15" stroke="#222" stroke-width="0.8" stroke-dasharray="3,1.6"/>
<line x1="298.40" y1="223.95" x2="298.40" y2="399.15" stroke="#222" stroke-width="0.8" stroke-dasharray="3,1.6"/>
<line x1="255.80" y1="384.55" x2="426.20" y2="384.55" stroke="#222" stroke-width="0.8" stroke-dasharray="3,1.6"/>
<line x1="255.80" y1="355.35" x2="426.20" y2="355.35" stroke="#222" stroke-width="0.8" stroke-dasharray="3,1.6"/>
<path d="M255.80,223.95 L255.80,399.15 L426.20,399.15 L426.20,223.95" fill="none" stroke="#555" stroke-width="0.9"/>
<line x1="255.80" y1="223.95" x2="426.20" y2="223.95" stroke="#9a9696" stroke-width="1.2"/>
<line x1="253.20" y1="399.15" x2="255.80" y2="399.15" stroke="#333" stroke-width="0.8"/>
<text x="250.00" y="401.85" font-size="8.5" fill="#222" text-anchor="end">−2</text>
<line x1="255.80" y1="399.15" x2="255.80" y2="401.75" stroke="#333" stroke-width="0.8"/>
<text x="255.80" y="410.60" font-size="8.5" fill="#222" text-anchor="middle">−2</text>
<line x1="253.20" y1="369.95" x2="255.80" y2="369.95" stroke="#333" stroke-width="0.8"/>
<text x="250.00" y="372.65" font-size="8.5" fill="#222" text-anchor="end">0</text>
<line x1="284.20" y1="399.15" x2="284.20" y2="401.75" stroke="#333" stroke-width="0.8"/>
<text x="284.20" y="410.60" font-size="8.5" fill="#222" text-anchor="middle">0</text>
<line x1="253.20" y1="340.75" x2="255.80" y2="340.75" stroke="#333" stroke-width="0.8"/>
<text x="250.00" y="343.45" font-size="8.5" fill="#222" text-anchor="end">2</text>
<line x1="312.60" y1="399.15" x2="312.60" y2="401.75" stroke="#333" stroke-width="0.8"/>
<text x="312.60" y="410.60" font-size="8.5" fill="#222" text-anchor="middle">2</text>
<line x1="253.20" y1="311.55" x2="255.80" y2="311.55" stroke="#333" stroke-width="0.8"/>
<text x="250.00" y="314.25" font-size="8.5" fill="#222" text-anchor="end">4</text>
<line x1="341.00" y1="399.15" x2="341.00" y2="401.75" stroke="#333" stroke-width="0.8"/>
<text x="341.00" y="410.60" font-size="8.5" fill="#222" text-anchor="middle">4</text>
<line x1="253.20" y1="282.35" x2="255.80" y2="282.35" stroke="#333" stroke-width="0.8"/>
<text x="250.00" y="285.05" font-size="8.5" fill="#222" text-anchor="end">6</text>
<line x1="369.40" y1="399.15" x2="369.40" y2="401.75" stroke="#333" stroke-width="0.8"/>
<text x="369.40" y="410.60" font-size="8.5" fill="#222" text-anchor="middle">6</text>
<line x1="253.20" y1="253.15" x2="255.80" y2="253.15" stroke="#333" stroke-width="0.8"/>
<text x="250.00" y="255.85" font-size="8.5" fill="#222" text-anchor="end">8</text>
<line x1="397.80" y1="399.15" x2="397.80" y2="401.75" stroke="#333" stroke-width="0.8"/>
<text x="397.80" y="410.60" font-size="8.5" fill="#222" text-anchor="middle">8</text>
<line x1="253.20" y1="223.95" x2="255.80" y2="223.95" stroke="#333" stroke-width="0.8"/>
<text x="250.00" y="226.65" font-size="8.5" fill="#222" text-anchor="end">10</text>
<line x1="426.20" y1="399.15" x2="426.20" y2="401.75" stroke="#333" stroke-width="0.8"/>
<text x="426.20" y="410.60" font-size="8.5" fill="#222" text-anchor="middle">10</text>
<text x="284.20" y="251.40" font-size="7.5" fill="#e29b2a" text-anchor="middle">Mid_High</text>
<text x="284.20" y="259.00" font-size="7.6" fill="#e29b2a" text-anchor="middle">1172</text>
<text x="397.80" y="251.40" font-size="7.5" fill="#e29b2a" text-anchor="middle">High_High</text>
<text x="397.80" y="259.00" font-size="7.6" fill="#e29b2a" text-anchor="middle">968</text>
<text x="284.20" y="368.00" font-size="7.5" fill="#e29b2a" text-anchor="middle">Mid_Mid</text>
<text x="284.20" y="375.60" font-size="7.6" fill="#e29b2a" text-anchor="middle">9787</text>
<text x="397.80" y="368.00" font-size="7.5" fill="#e29b2a" text-anchor="middle">High_Mid</text>
<text x="397.80" y="375.60" font-size="7.6" fill="#e29b2a" text-anchor="middle">1945</text>
<text x="234.20" y="312.00" font-size="10.1" fill="#111" text-anchor="middle" transform="rotate(-90 234.20 312.00)">Zscore(H3K9me Signals)</text>
<text x="340.70" y="422.80" font-size="10.1" fill="#111" text-anchor="middle">Zscore(H3K4me Signals)</text>
<text x="443.30" y="232.60" font-size="20" fill="#231815" text-anchor="start">F</text>
<line x1="500.60" y1="348.38" x2="500.60" y2="292.50" stroke="#777" stroke-width="0.9"/>
<line x1="500.60" y1="386.31" x2="500.60" y2="389.80" stroke="#777" stroke-width="0.9"/>
<rect x="487.80" y="348.38" width="25.6" height="37.92" fill="#bfe3ef" stroke="#666" stroke-width="0.7"/>
<line x1="487.80" y1="374.33" x2="513.40" y2="374.33" stroke="#333" stroke-width="1.3"/>
<line x1="500.60" y1="397.00" x2="500.60" y2="399.60" stroke="#333" stroke-width="0.8"/>
<line x1="543.00" y1="333.41" x2="543.00" y2="255.07" stroke="#777" stroke-width="0.9"/>
<line x1="543.00" y1="386.31" x2="543.00" y2="389.80" stroke="#777" stroke-width="0.9"/>
<rect x="530.20" y="333.41" width="25.6" height="52.89" fill="#f2e4cb" stroke="#666" stroke-width="0.7"/>
<line x1="530.20" y1="373.33" x2="555.80" y2="373.33" stroke="#333" stroke-width="1.3"/>
<line x1="543.00" y1="397.00" x2="543.00" y2="399.60" stroke="#333" stroke-width="0.8"/>
<line x1="585.50" y1="343.89" x2="585.50" y2="282.51" stroke="#777" stroke-width="0.9"/>
<line x1="585.50" y1="386.31" x2="585.50" y2="389.80" stroke="#777" stroke-width="0.9"/>
<rect x="572.70" y="343.89" width="25.6" height="42.42" fill="#d8f1d8" stroke="#666" stroke-width="0.7"/>
<line x1="572.70" y1="377.32" x2="598.30" y2="377.32" stroke="#333" stroke-width="1.3"/>
<line x1="585.50" y1="397.00" x2="585.50" y2="399.60" stroke="#333" stroke-width="0.8"/>
<line x1="628.00" y1="348.88" x2="628.00" y2="299.98" stroke="#777" stroke-width="0.9"/>
<line x1="628.00" y1="387.31" x2="628.00" y2="389.80" stroke="#777" stroke-width="0.9"/>
<rect x="615.20" y="348.88" width="25.6" height="38.42" fill="#f2dae2" stroke="#666" stroke-width="0.7"/>
<line x1="615.20" y1="376.83" x2="640.80" y2="376.83" stroke="#333" stroke-width="1.3"/>
<line x1="628.00" y1="397.00" x2="628.00" y2="399.60" stroke="#333" stroke-width="0.8"/>
<rect x="476.00" y="232.80" width="177.30" height="164.20" fill="none" stroke="#555" stroke-width="0.8"/>
<line x1="476.00" y1="232.80" x2="476.00" y2="397.00" stroke="#333" stroke-width="0.9"/>
<line x1="473.40" y1="389.80" x2="476.00" y2="389.80" stroke="#333" stroke-width="0.8"/>
<text x="471.00" y="393.30" font-size="9.9" fill="#222" text-anchor="end">0</text>
<line x1="473.40" y1="339.90" x2="476.00" y2="339.90" stroke="#333" stroke-width="0.8"/>
<text x="471.00" y="343.40" font-size="9.9" fill="#222" text-anchor="end">1</text>
<line x1="473.40" y1="290.00" x2="476.00" y2="290.00" stroke="#333" stroke-width="0.8"/>
<text x="471.00" y="293.50" font-size="9.9" fill="#222" text-anchor="end">2</text>
<line x1="473.40" y1="240.10" x2="476.00" y2="240.10" stroke="#333" stroke-width="0.8"/>
<text x="471.00" y="243.60" font-size="9.9" fill="#222" text-anchor="end">3</text>
<text x="461.50" y="315.00" font-size="10.0" fill="#111" text-anchor="middle" transform="rotate(-90 461.50 315.00)">log2(FPKM + 1)</text>
<text x="504.10" y="407.50" font-size="9.6" fill="#222" text-anchor="end" transform="rotate(-30 504.10 407.50)">Mid_High</text>
<text x="546.50" y="407.50" font-size="9.6" fill="#222" text-anchor="end" transform="rotate(-30 546.50 407.50)">Mid_Mid</text>
<text x="589.00" y="407.50" font-size="9.6" fill="#222" text-anchor="end" transform="rotate(-30 589.00 407.50)">High_Mid</text>
<text x="631.50" y="407.50" font-size="9.6" fill="#222" text-anchor="end" transform="rotate(-30 631.50 407.50)">High_High</text>
<text x="6.40" y="425.40" font-size="20" fill="#231815" text-anchor="start">B</text>
<line x1="30.60" y1="421.80" x2="30.60" y2="624.10" stroke="#222" stroke-width="0.9"/>
<line x1="30.60" y1="624.10" x2="203.20" y2="624.10" stroke="#222" stroke-width="0.9"/>
<line x1="28.00" y1="615.10" x2="30.60" y2="615.10" stroke="#222" stroke-width="0.8"/>
<text x="26.60" y="618.50" font-size="9.5" fill="#222" text-anchor="end">0</text>
<line x1="28.00" y1="562.05" x2="30.60" y2="562.05" stroke="#222" stroke-width="0.8"/>
<text x="26.60" y="565.45" font-size="9.5" fill="#222" text-anchor="end">5</text>
<line x1="28.00" y1="509.00" x2="30.60" y2="509.00" stroke="#222" stroke-width="0.8"/>
<text x="26.60" y="512.40" font-size="9.5" fill="#222" text-anchor="end">10</text>
<line x1="28.00" y1="455.95" x2="30.60" y2="455.95" stroke="#222" stroke-width="0.8"/>
<text x="26.60" y="459.35" font-size="9.5" fill="#222" text-anchor="end">15</text>
<text x="12.60" y="526.20" font-size="10.3" fill="#111" text-anchor="middle" transform="rotate(-90 12.60 526.20)">log2(FPKM + 1)</text>
<rect x="47.90" y="556.75" width="15" height="60.16" fill="#c3cfe3"/>
<path d="M62.7 588.7h0M48.6 565.2h0M48.7 585.2h0M48 597.4h0M47.9 563.1h0M63 592h0M47.8 579.2h0M48.8 566.6h0M47.9 604h0M62.6 569.7h0M47.8 565.9h0M48.1 585.9h0M47.7 598.9h0M48 596.7h0M48.2 613.4h0M62 565.7h0M48.5 614.1h0M48.1 561h0M62.6 557.9h0M47.6 582.1h0M48.4 599.4h0M63.2 614.2h0M47.7 608.2h0M63.3 614.5h0M48.1 604.7h0M48.2 604h0M62.6 592.7h0M63.4 602.7h0M63.6 558.2h0M48.2 614h0M48.8 565.2h0M62.3 606.6h0M63.3 570h0M48.7 592.6h0M48.9 581.1h0M62.1 593.6h0M47.4 580.8h0M48.4 604.4h0M47.7 601.8h0M47.7 605.9h0M62.9 592.4h0M48.7 590.5h0M62.3 585.2h0M62.6 574h0M62.4 562.3h0M48.7 604.9h0M48.4 587.1h0M47.6 561.6h0M62.7 611.1h0M48.4 611.6h0M48.7 584.1h0M63.6 607h0M47.9 576.8h0M63.4 561.2h0M48.9 574.2h0M62 578h0M47.2 596.9h0M63.2 610.7h0M47.6 562.6h0M62 561.7h0M47.4 587.5h0M47.4 590.8h0M62.5 581.7h0M48.8 614.4h0M63.4 577.8h0M63.5 572.6h0M62.6 574.6h0M48 566.2h0M62.9 585.1h0M47.3 587h0M62.3 608.5h0M62.1 614.4h0M47.6 579.4h0M62.7 595.1h0M63 601h0M63.3 603.5h0M47.4 571.1h0M62.3 592.7h0M47.3 565.6h0M48.7 598.9h0M63 592.8h0M62.4 573.3h0M63.4 566.7h0M62.9 612.7h0M48.9 591.5h0M47.6 566.7h0M48.1 568.6h0M63.5 578.3h0M47.5 575.2h0M47.6 600.2h0M48.6 583.9h0M62.8 599.2h0M48.2 559.8h0M48.8 568.9h0M62.1 560.7h0M48.3 588.6h0M62.7 581.9h0M48.7 577.1h0M48.5 564.6h0M47.2 562.6h0M62.3 583.8h0M48.3 573.2h0M62.5 610.3h0M62.7 590.5h0M63.5 585h0M47.6 586.4h0M63.3 589.5h0M62.4 565.9h0M48.4 592.9h0M48 603.4h0M62.8 612.5h0M48.1 557.4h0M47.3 574.8h0M62.4 588.3h0M62.8 562.5h0M63 608.8h0M47.7 561.1h0M48.6 558.1h0M62.4 601.8h0M62.1 594.4h0M47.5 572.4h0M47.7 578.7h0M48.3 563.8h0M63.4 571.9h0M63.4 596.7h0M47.4 603.7h0M48.7 607.3h0M62.1 610h0M62.8 566.5h0M48.7 575.1h0M63.4 581.8h0M47.7 558.6h0M48.8 587h0M62.1 582.9h0M48.6 604.3h0M63.5 605.9h0M48.7 609.5h0M47.6 575.4h0M62.6 596h0M47.9 594.4h0M47.5 614.3h0M62.5 604.5h0M47.9 593.5h0M48.3 609.6h0M63.3 604h0M47.6 600h0M62.1 569.7h0M63.2 595.8h0M62.3 570.4h0M62.4 604.3h0M63.6 609.2h0M48.5 562.4h0M63.6 574.2h0M47.6 613.8h0M62.8 600.1h0M61.9 570.7h0M63.4 600h0M63.5 583h0M63.5 580.3h0M62.9 590.5h0M62.7 593.8h0M48.9 571.5h0M62 591.2h0M62 596.7h0M62 557.4h0M63.1 562.3h0M48.8 600.5h0M62.1 609.4h0M48.3 603.2h0M62.9 576.1h0M47.3 571.7h0M63.2 585.8h0M62.4 578.6h0M47.3 571.1h0M47.4 585.8h0M48.9 612.8h0M62 609.1h0M48 610.1h0M48.1 589h0M52.5 562.6h0M54.3 562.2h0M60.6 563.6h0M60.7 569.4h0M52.3 557.9h0M57.1 560.6h0M55.3 559.7h0M52.6 558.3h0M50.8 561.1h0M52.6 557.9h0M52.5 563.9h0M57 558h0M58.5 565.9h0M55.9 556.8h0M54.7 566.7h0M63.1 560.2h0M55.7 568.4h0M60.8 569.2h0M58.3 562h0M60.3 560.1h0M53.2 564.5h0M49.7 562h0M50.1 568.3h0M52.1 569.2h0M56.7 565.6h0M56.1 565.2h0M51.7 568.1h0M52.3 569.1h0M57.9 568.2h0M57.3 568.9h0M59.6 556.9h0M52.9 569.4h0M54.8 562.6h0M47.6 564.9h0M47.4 568.1h0M51.2 567.4h0M49.8 557.8h0M47.5 563.4h0M54.4 558.1h0M53.8 557.9h0M53.8 557.3h0M63.2 559.4h0M62 563.7h0M63 565.5h0M63.6 561h0M57.5 557.5h0M47.7 556.9h0M51.2 556.9h0M63.6 560.5h0M47.6 561.1h0M49.6 557.6h0M47.3 560.8h0M63.6 567.7h0M47.6 557.9h0M63.1 563.4h0M63.6 560.2h0M58.6 568.7h0M52.7 557.3h0M47.3 562h0M47.7 559.4h0M56.8 569.4h0M55.1 569.1h0M57.6 557h0M50.5 557.1h0M63.4 569.4h0M59 557h0M62.7 557.7h0M56.8 556.8h0M61.3 557.6h0M63.6 558.8h0M53 550h0M53.3 556.2h0M49.5 548.1h0M59.5 542.7h0M47.4 550.7h0M59.4 544.8h0M48.3 547.1h0M56.4 542.5h0M49.2 553h0M53.3 544.4h0M51.5 544.2h0M49.2 543.8h0M55.2 550.5h0M51.9 540.6h0M50.8 546.1h0M50.5 540.7h0M55.7 545.9h0M62.1 545.2h0M55 543.7h0M61.2 554.4h0M62.2 553.7h0M49.2 541.3h0M62.2 541.1h0M53.4 554.2h0M52.1 542.7h0M61.7 545.7h0M47.8 556.4h0M53.3 553.4h0M60.6 553.8h0M57.7 541.7h0M52.8 552.4h0M47.7 541.4h0M57.3 549.5h0M54.6 551h0M53.5 539.6h0M58.4 543.7h0M55.3 554.2h0M47.5 550.9h0M51.6 548.2h0M50.8 554.4h0M62.4 550h0M47.3 539.3h0M61.1 549.4h0M48.5 544.7h0M61.7 543.3h0M60.3 546.4h0M48.9 554.3h0M58.2 552.7h0M57.8 550.4h0M58.8 552.8h0M57.1 510.9h0M52.4 515h0M60 515h0M57.6 519.2h0M54.1 521.5h0M51.8 524.5h0M48.8 529.2h0M56.5 528.6h0M58.2 532.7h0M47.1 535.1h0M51.2 533.9h0M60.6 535.1h0M61.8 538.7h0M56.5 540.5h0M47.1 548.3h0M62.9 547.2h0M49.4 527h0M55.9 517.5h0M49.9 531.3h0" fill="none" stroke="#c3cfe3" stroke-width="4.2" stroke-linecap="round"/>
<rect x="88.80" y="586.45" width="15" height="30.45" fill="#cdeac8"/>
<path d="M88.3 588.8h0M88.3 586.8h0M103.7 606.2h0M89.5 595.6h0M102.9 590.3h0M103.2 607.8h0M104 596.9h0M104.3 605.7h0M88.8 609.2h0M88.7 603.1h0M89.6 591.3h0M103.2 604.3h0M89 609.8h0M89.3 595.2h0M103.9 607.3h0M89.7 603.7h0M88.3 594.7h0M104 609.5h0M89.1 586.6h0M103.1 589.2h0M104.2 613.2h0M103.2 591.1h0M104.1 594.4h0M103.9 587h0M104.2 608.9h0M88.4 610.9h0M104.3 599.2h0M89.2 602.7h0M89.3 614.5h0M103.2 603.6h0M103.7 601.3h0M89.7 599.1h0M103.9 589.5h0M103.6 615h0M88.1 586.5h0M89.1 603.4h0M103.7 592h0M103.3 608.9h0M88.1 588.2h0M89.5 602.4h0M88.9 614.3h0M103.4 595.8h0M102.9 593.5h0M89.7 601.8h0M104.2 604.7h0M88.2 592.1h0M103.2 601.3h0M89.8 589h0M103.5 611.1h0M104.2 604.5h0M88.5 607.5h0M88.9 609h0M89.2 595.6h0M103.4 610.6h0M89.3 613.6h0M89.8 599.7h0M88.5 610.1h0M103.5 612h0M89 587.5h0M88.4 592.7h0M104.4 613.1h0M88.5 605.9h0M89.5 600.1h0M104.3 596.9h0M104.3 613.5h0M103.7 590.6h0M89.6 598.8h0M103.7 601.7h0M88.9 604.3h0M103.6 614.2h0M88.2 598.1h0M103.1 607.8h0M102.9 601.7h0M103 587.4h0M88.4 609.7h0M104.5 592.2h0M88.6 613.2h0M103.1 599.7h0M89.7 607.1h0M88.4 593h0M103.1 610.8h0M104.4 605.5h0M103 608.8h0M102.9 609.9h0M104.3 595.6h0M88.9 613h0M102.8 586.6h0M89.5 609.9h0M89.6 598.5h0M103.8 611.8h0M89.8 604.9h0M88.5 613.1h0M88.2 611.3h0M93.8 590.2h0M92 591.8h0M92.8 588.1h0M99.2 593.4h0M100.3 591.5h0M95.5 598.4h0M95 595.6h0M95.3 587h0M99.1 596.1h0M94.8 597.5h0M102.8 596h0M95 594.8h0M101.6 588.4h0M97.8 592.2h0M89.7 587.8h0M89.5 594.6h0M94.2 590h0M99.1 594.8h0M88.5 591.1h0M95.8 594.6h0M95.7 595.2h0M99.1 591.5h0M104 586.8h0M104.4 594.2h0M99.6 586.5h0M94.7 590.8h0M91.7 586.6h0M91.5 594.5h0M100.3 598.1h0M98.3 589.7h0M93 592.7h0M90.2 598.1h0M96.5 595.4h0M94.9 598.5h0M94.9 599h0M93 586.9h0M98.6 588.4h0M96.3 587.7h0M94.6 595.4h0M91.8 597.9h0M96 596.3h0M88.2 594h0M97.8 587h0M98.6 598.9h0M97.6 599.1h0M100.1 598.3h0M93.2 587h0M95.8 598.8h0M97.3 586.8h0M92.4 577.3h0M88.4 584.2h0M92.3 580.3h0M92.2 583.7h0M96.1 585.5h0M92.8 583.9h0M96.5 583.8h0M90.7 574.9h0M102.1 575.1h0M97 579.2h0M96.9 577.2h0M103.2 578.4h0M92.4 576.5h0M103.5 586.1h0M101 582.8h0M95.5 584.4h0M100.1 582.7h0M96.4 573.7h0M93.8 579.9h0M103.7 584.4h0M89.3 578.5h0M89.8 574.4h0M90.1 579.9h0M93.2 572.9h0M89.1 574.9h0M89.2 578.3h0M97.5 586.3h0M99.3 573h0M101 575.2h0M89.4 580.5h0M91.1 580.5h0M93.9 580.5h0M91.3 580.9h0M94.9 577.7h0M89.4 581.1h0M97.2 581h0M97.3 573.2h0M93 569.8h0M99.6 565.5h0M104.1 552.7h0M103.3 552.5h0M103.4 554.4h0M96.1 572.2h0M99.3 560.1h0M98.2 559.7h0M89.5 552.9h0M103.8 561.6h0M89.9 572h0M103.8 554.2h0M88.6 572.1h0M99.4 555.1h0M97.6 561.6h0M101.3 556.6h0M104.1 555.8h0M94.8 555h0M93.8 565.5h0M89.1 502.7h0M98.2 513.1h0M98.2 535.3h0M95 539h0M100 541.8h0M95 543.5h0M99.7 546.5h0M103.8 546.5h0M88.2 551.7h0M93.8 553.6h0M101.2 553.1h0M89.4 556.1h0M88.6 559.7h0" fill="none" stroke="#cdeac8" stroke-width="4.2" stroke-linecap="round"/>
<rect x="129.70" y="574.78" width="15" height="42.12" fill="#e5c592"/>
<path d="M130.3 614.5h0M144.6 591.5h0M129.1 600.9h0M130.4 598.4h0M144.1 604.9h0M130.3 578.1h0M144.7 588.7h0M130.4 591.9h0M144.6 605.7h0M129.6 585.3h0M130.6 583.2h0M129.9 584.3h0M130.1 613.3h0M129 600.7h0M130 599.5h0M130.1 588.1h0M145.2 583.2h0M129.9 592.4h0M130.6 582.1h0M130 613.8h0M130.4 608.7h0M129.1 579.7h0M130.5 601.3h0M130.4 586.3h0M129.2 609.6h0M144.3 585.8h0M143.9 585.8h0M129.5 580h0M130.2 587.8h0M130.2 607.7h0M145 594.1h0M130.6 593.9h0M129.1 606.1h0M130.4 575.8h0M130.2 601.8h0M144.3 583.1h0M144.5 574.9h0M145.4 607.4h0M144.6 614.1h0M130.4 603.7h0M129.1 585.4h0M145.1 614.1h0M129.9 595h0M130.4 607.7h0M144.1 575.9h0M144.9 590.2h0M144.4 609.3h0M144.3 591.4h0M129.5 578.3h0M129.9 590h0M145 592.5h0M144.1 577.4h0M129.5 591.6h0M129.6 601.4h0M144.7 615h0M144.9 595.1h0M144.2 588.4h0M143.8 591.9h0M143.8 602.2h0M130.2 609.3h0M130.2 597.2h0M145.1 613.1h0M130 604.8h0M129.9 592.7h0M144.2 595.7h0M145.3 588.3h0M145.1 589h0M129.5 575.6h0M145.1 582.9h0M130.6 595.9h0M144.5 582.5h0M145.3 589.1h0M129 589.1h0M145.4 608.7h0M144.1 580h0M145.4 590.5h0M129.4 590h0M145.2 588.1h0M129.7 584.1h0M144.1 577.1h0M130.7 586.4h0M129.5 590.2h0M144.5 594.3h0M129.6 587.2h0M130.2 577.7h0M145.3 576.7h0M143.9 583.9h0M143.8 606.3h0M129.9 611.2h0M130.2 585.1h0M145.3 578h0M144.4 611.9h0M129.8 598.2h0M129.7 607.5h0M129.5 583h0M145.4 596.7h0M129.1 576.7h0M129.8 579.3h0M144.9 615h0M129 597.5h0M143.8 588.9h0M144.9 612.2h0M129.1 590.1h0M145.4 580.7h0M130.1 579.9h0M130.3 580h0M144 600.4h0M144.8 598.5h0M144.8 611.5h0M144.9 592.9h0M145.2 594.8h0M130.2 612.1h0M144.4 585.9h0M144.3 599.3h0M143.8 576.6h0M129.3 591.6h0M145 599.3h0M144.6 587.6h0M129.4 575.3h0M144.8 603.4h0M129.9 611.1h0M130.2 613h0M145.1 587.2h0M143.9 599.8h0M135.5 582.4h0M141.9 579.5h0M142.7 579.7h0M132.4 587.2h0M129.3 586.8h0M138.6 579h0M133.8 583.3h0M139.2 582.9h0M134.3 577.2h0M143.8 576.7h0M140.5 587.2h0M133.6 581.1h0M134.9 580.5h0M138.9 583.4h0M139.6 575.8h0M141.9 576.2h0M131.9 585.2h0M138.7 577.8h0M136.8 579.8h0M134.7 577.7h0M134.2 576.6h0M136.9 586.8h0M137.1 579h0M134.3 580h0M141.5 581.3h0M137.7 582.6h0M142 582.2h0M138.1 587h0M131.5 578.9h0M133.1 587.5h0M129.2 582.9h0M135.8 585.3h0M140.8 584.4h0M138.4 574.8h0M129.6 581.7h0M145.2 576.1h0M142.3 574.9h0M129.2 578.3h0M131.9 576.2h0M137.6 575.1h0M139.6 575h0M134 576.3h0M139.7 587.1h0M135.2 575.6h0M134.2 587.4h0M135.4 575.5h0M132.3 587.4h0M136.9 587h0M134.6 574.9h0M134 574.9h0M145.3 586.3h0M140.9 587.5h0M145.1 583.9h0M145 571.3h0M135.6 572.7h0M141.5 568.9h0M143.9 569.5h0M137.1 573.6h0M135.9 572.8h0M144.7 569.9h0M131.6 572.1h0M132 571.9h0M145 568.9h0M132.9 569.6h0M137.4 569.4h0M133.6 571.3h0M137.5 573.7h0M138.8 569.2h0M143.2 570.5h0M132.7 568.8h0M142.9 572.1h0M145.1 571.5h0M142 569.5h0M136.1 569.8h0M145.1 573.3h0M141.8 569h0M138.2 571.8h0M140.3 573.1h0M129.7 570.4h0M131.8 568.6h0M138.7 569h0M140.5 570.7h0M137.7 557h0M137.8 561.1h0M137 559.3h0M130.1 567.3h0M144.5 560.3h0M144.3 559.1h0M134 559h0M132.4 562.8h0M141.8 561.8h0M129.2 562.6h0M130.4 563.5h0M138.1 559.7h0M136.7 565.6h0M134.2 562.7h0M136.2 562.4h0M131.2 565.4h0M141.4 561.2h0M131 560.4h0M136.5 510.2h0M140.2 515.4h0M136.5 535.5h0M139.8 535h0M130.6 541.9h0M135.8 543h0M140.6 541.9h0M129.7 546.1h0M131.6 549.3h0M129.7 552.5h0M137.4 553h0M140.4 552.8h0M142.6 554.1h0M138.9 558.9h0M130.6 566.3h0M143.9 564.2h0" fill="none" stroke="#e5c592" stroke-width="4.2" stroke-linecap="round"/>
<rect x="170.60" y="537.65" width="15" height="79.25" fill="#d6bde1"/>
<path d="M171.3 588.6h0M171.3 564.3h0M186.3 567.3h0M186.2 570.3h0M170.8 556.4h0M171.3 554.9h0M186 574h0M184.8 557.4h0M170.1 603.9h0M184.8 540.6h0M170.6 604.2h0M184.8 593.5h0M184.6 589.2h0M170.1 572.7h0M185.1 598.7h0M170.9 555.6h0M170.9 574.8h0M170.5 611.9h0M170.6 606.8h0M184.6 571.2h0M185.7 538.6h0M184.9 578.2h0M186.2 556.5h0M171 598.9h0M170.1 582h0M170.1 578.4h0M185.7 608.1h0M185.3 559.3h0M185.9 579.7h0M186.3 553.6h0M171.5 561.1h0M186.2 585.1h0M185.7 572.5h0M184.7 597.7h0M184.8 590.6h0M170.6 554.3h0M185.2 550.1h0M184.6 600.8h0M171.3 555.8h0M171.3 551.8h0M185.9 585.8h0M184.7 558h0M170.8 577.2h0M185.6 610.1h0M171.3 540.8h0M170 538.3h0M185.1 597.8h0M184.9 580.9h0M171.5 545.6h0M186 593h0M170.6 584.2h0M170.9 551.6h0M185.3 583.8h0M171.1 576.4h0M185.3 594.2h0M171 579.8h0M184.8 577h0M171.1 566.9h0M171.2 592h0M170.4 552.8h0M170.8 612.9h0M170.9 574.4h0M184.8 584h0M185.5 585.2h0M170.5 553.7h0M170.2 579.3h0M170.6 551.1h0M170 604.8h0M184.8 602.3h0M184.8 556.7h0M184.6 566h0M186.1 597.7h0M186.2 554.9h0M185.8 583.4h0M171.5 610.4h0M184.9 578h0M184.8 605.5h0M171.3 572.3h0M186.2 604.8h0M170.4 543h0M185.6 599.8h0M185.1 588h0M170 613.6h0M170.5 538.4h0M170.3 607.4h0M185.5 545.6h0M186.3 580.7h0M184.8 559.6h0M186.2 587.9h0M185.9 568.4h0M186.3 604.5h0M170.3 598.7h0M170 606.1h0M185.6 549.9h0M171.5 609.3h0M184.7 610.4h0M185.8 599.7h0M170.3 586.6h0M185.4 585.8h0M171.3 551.4h0M170.2 538.7h0M170.4 569.3h0M170.4 613.5h0M184.7 567.6h0M185.7 565.6h0M170.5 610.9h0M170 568.1h0M185.4 552.2h0M170.1 614h0M184.7 567.7h0M185.7 565.1h0M170.8 555.3h0M185.8 545.6h0M184.7 572.2h0M170.6 561.6h0M171.4 557.5h0M186 575.6h0M170.6 588.8h0M184.6 591.8h0M185.2 591.7h0M185.8 548.9h0M185.2 587.4h0M170.1 593.1h0M171 557.7h0M170.2 595.9h0M185.6 606.7h0M186.1 543.7h0M170.8 587.4h0M171.2 575.4h0M170.2 559.2h0M185.8 576.7h0M170 612.1h0M171 562.6h0M185.2 601.4h0M186.1 574.4h0M185.2 561.8h0M184.9 555.4h0M170 543.9h0M170.4 602.5h0M186.2 589.2h0M171.5 592.2h0M171.3 613.7h0M185.2 570.1h0M185.1 541.4h0M171.2 612.8h0M171.2 550.6h0M186.2 603h0M184.7 543.6h0M171.5 586.5h0M185 611.5h0M171.4 549h0M171.4 573.7h0M185.3 607.4h0M186 605.4h0M185.5 594.6h0M171.4 597.8h0M170.7 549.3h0M185.3 608.2h0M171.5 611.2h0M186.1 566.2h0M171.3 584.9h0M169.9 558.9h0M184.7 596.3h0M185.3 552.9h0M171.4 541h0M186.1 552.5h0M186 600.6h0M171.1 552.7h0M185.9 599.5h0M171.1 578.4h0M185.9 581.7h0M185.1 546.7h0M185.4 573.7h0M185.4 608.9h0M170.1 599h0M170.6 541.8h0M170.4 583.5h0M171.4 559.3h0M184.8 609h0M170.2 548h0M171.6 544.1h0M170.2 588.2h0M171.2 542h0M185.3 611.5h0M184.6 598.7h0M184.9 552.6h0M185 613.9h0M185.9 571.6h0M170.1 595.1h0M171.2 588.3h0M170.1 607.4h0M170.9 596.3h0M170.4 568.2h0M184.6 541.8h0M170.4 541h0M171.6 562.3h0M170.7 563.9h0M171 546.1h0M170.9 588.9h0M171.1 608.4h0M170.3 556.8h0M170.1 571.7h0M185.9 540h0M185.1 584.8h0M170.6 559.9h0M170.1 554.3h0M186.1 586.5h0M186 606.3h0M185.1 614.8h0M185.2 541.2h0M170 575.2h0M171.2 602.8h0M185.7 594.2h0M171.2 542.8h0M185.2 539.4h0M185.3 538.2h0M185.3 537.8h0M171.4 541.5h0M170.7 538.6h0M186.2 547.4h0M184.8 554h0M185.1 562.1h0M170.6 577.1h0M171.3 582h0M170.6 569.6h0M185.5 610.8h0M181.2 547.5h0M181.2 542.9h0M182.2 537.7h0M175.4 537.7h0M177.4 543.9h0M172.8 549.3h0M180.5 549.1h0M170.5 549.3h0M178.8 547.9h0M174.2 540.6h0M177.2 548.5h0M181 537.7h0M180.1 544.7h0M178.7 541.4h0M183.6 540.4h0M174 540.4h0M178.2 548h0M179.1 546.8h0M183.3 538.3h0M177.3 540.6h0M178 545.3h0M171.9 542h0M175.1 543.7h0M175.7 545.4h0M182.6 550.3h0M174.1 545.2h0M178.9 549h0M174.8 538.3h0M172 550.1h0M175.9 550.2h0M181.9 541.9h0M170.6 540.6h0M182.7 540.6h0M183 542.7h0M176.6 539.7h0M178.6 539.2h0M186.1 539.8h0M176.9 547.3h0M184.4 546.3h0M182.3 540.6h0M170.1 546.8h0M177.7 538.3h0M172.1 538.9h0M185.9 540.3h0M174.5 550.1h0M184.3 549.5h0M178.2 549.2h0M183.3 546.7h0M174.1 549.6h0M185.6 541.7h0M174.1 548.9h0M185.9 539.2h0M170 540.8h0M186.3 543.4h0M181 549.8h0M176.3 550.4h0M178.8 538.4h0M178.5 549.7h0M186.2 542.6h0M178.4 549.9h0M170.1 548.2h0M183.9 538h0M185.9 544.5h0M170.1 544.6h0M184.9 537.8h0M170 537.9h0M177.3 538h0M180.5 550.1h0M174.6 538.2h0M170.1 543.8h0M171.5 538.8h0M173.8 550h0M172.3 538.1h0M180.1 550.3h0M173.9 550.2h0M169.9 547.7h0M185.9 549.2h0M178.2 537.8h0M183.1 537.7h0M171.4 538.1h0M170 539.1h0M176.9 550.3h0M173.9 537.7h0M177.9 528.4h0M186.3 522.3h0M173.9 523.2h0M179.9 519.9h0M173.3 537.2h0M182.9 520.4h0M180.8 524.7h0M185.3 537.4h0M182.6 532.9h0M185 528.7h0M176.4 522.9h0M172.8 522.5h0M175.2 532h0M176.5 537h0M185.8 537.6h0M177.8 523.2h0M174.2 536.8h0M174.7 524.1h0M176.9 536.3h0M172 527.8h0M179 531.5h0M176.6 524.6h0M174.1 519.8h0M171.2 524.5h0M178.8 521.3h0M183.3 535h0M172 521.9h0M185.6 521.9h0M182.9 531.9h0M179.2 525.1h0M175 531.3h0M182.7 523.2h0M171 520.7h0M181.5 527.9h0M170.2 534.3h0M182.7 521.7h0M175.4 525.2h0M183.2 530.4h0M181.8 536.3h0M177.5 525.3h0M180.3 520.5h0M174.7 530.9h0M182.3 529.3h0M184.8 519.8h0M185.9 522.5h0M182 524.8h0M176.6 536.4h0M171.6 529.4h0M176 521.6h0M171.2 533.8h0M175.4 528.5h0M172.5 530.5h0M181.2 537h0M176.6 529.1h0M170.8 521.5h0M182.9 534h0M175.3 532.6h0M181.6 528.2h0M180.1 531.9h0M175.1 536.2h0M170.5 529.9h0M184.1 528.5h0M173.3 533.3h0M173.7 527h0M171.1 536.2h0M184.4 526.9h0M176.1 533.4h0M185.4 520.1h0M171.4 532.1h0M184.8 526.8h0M177.6 506h0M172.9 507.7h0M183 514.3h0M181.9 515.3h0M180.7 510.7h0M175.8 519.2h0M176.1 505h0M186.3 515.5h0M181.3 510.8h0M180.1 512.4h0M174.4 513.8h0M173.6 515.3h0M171.3 509.3h0M178.2 517.9h0M182.7 504.9h0M182.1 509.7h0M178.3 516.5h0M171.8 519.1h0M175.6 517.8h0M173.5 512.6h0M171.9 518.5h0M186.1 505.5h0M172.1 506h0M184.3 516.6h0M185.7 510h0M183.7 505.9h0M184.7 505.7h0M182.4 505.2h0M181.4 507.9h0M177.9 475.2h0M179.9 479.3h0M172.2 487.1h0M172.6 492h0M177.6 489.5h0M177.9 492.7h0M185.1 489.1h0M177.9 497.3h0M180.4 496.8h0M182.7 496.3h0M169.9 505.8h0M172.6 504.8h0M182.5 506.3h0M175.1 509h0M180.1 510.1h0" fill="none" stroke="#d6bde1" stroke-width="4.2" stroke-linecap="round"/>
<line x1="55.40" y1="624.10" x2="55.40" y2="626.70" stroke="#222" stroke-width="0.8"/>
<line x1="96.30" y1="624.10" x2="96.30" y2="626.70" stroke="#222" stroke-width="0.8"/>
<line x1="137.20" y1="624.10" x2="137.20" y2="626.70" stroke="#222" stroke-width="0.8"/>
<line x1="178.10" y1="624.10" x2="178.10" y2="626.70" stroke="#222" stroke-width="0.8"/>
<path d="M55.40,473.10 L55.40,471.10 L178.10,471.10 L178.10,473.10" fill="none" stroke="#222" stroke-width="0.8"/>
<text x="116.75" y="468.40" font-size="8.0" fill="#111" text-anchor="middle">p=6.95e−23</text>
<path d="M96.30,452.50 L96.30,450.50 L178.10,450.50 L178.10,452.50" fill="none" stroke="#222" stroke-width="0.8"/>
<text x="137.20" y="447.80" font-size="8.0" fill="#111" text-anchor="middle">p=1.15e−153</text>
<path d="M137.20,432.60 L137.20,430.60 L178.10,430.60 L178.10,432.60" fill="none" stroke="#222" stroke-width="0.8"/>
<text x="157.65" y="427.90" font-size="8.0" fill="#111" text-anchor="middle">p=3.31e−206</text>
<text x="58.40" y="634.50" font-size="9.5" fill="#222" text-anchor="end" transform="rotate(-30 58.40 634.50)">H3K4me3−only</text>
<text x="99.30" y="634.50" font-size="9.5" fill="#222" text-anchor="end" transform="rotate(-30 99.30 634.50)">H3K27me3−only</text>
<text x="140.20" y="634.50" font-size="9.5" fill="#222" text-anchor="end" transform="rotate(-30 140.20 634.50)">Bivalent</text>
<text x="181.10" y="634.50" font-size="9.5" fill="#222" text-anchor="end" transform="rotate(-30 181.10 634.50)">Non−marker</text>
<text x="206.80" y="424.80" font-size="20" fill="#231815" text-anchor="start">G</text>
<line x1="442.20" y1="438.00" x2="442.20" y2="652.90" stroke="#666" stroke-width="0.9"/>
<line x1="442.20" y1="652.90" x2="593.80" y2="652.90" stroke="#666" stroke-width="0.9"/>
<text x="437.60" y="448.40" font-size="8.7" fill="#454545" text-anchor="end">synapse assembly</text>
<line x1="449.10" y1="445.40" x2="587.24" y2="445.40" stroke="#7c7c7c" stroke-width="1.7"/>
<circle cx="587.24" cy="445.40" r="5.3" fill="#e35d4f"/>
<text x="437.60" y="460.92" font-size="8.7" fill="#454545" text-anchor="end">cell−cell adhesion via plasma−membrane adhesion molecules</text>
<line x1="449.10" y1="457.92" x2="538.90" y2="457.92" stroke="#7c7c7c" stroke-width="1.7"/>
<circle cx="538.90" cy="457.92" r="4.9" fill="#e35d4f"/>
<text x="437.60" y="473.44" font-size="8.7" fill="#454545" text-anchor="end">regulation of synapse assembly</text>
<line x1="449.10" y1="470.44" x2="537.76" y2="470.44" stroke="#7c7c7c" stroke-width="1.7"/>
<circle cx="537.76" cy="470.44" r="4.4" fill="#e35d4f"/>
<text x="437.60" y="485.96" font-size="8.7" fill="#454545" text-anchor="end">cell junction assembly</text>
<line x1="449.10" y1="482.96" x2="526.89" y2="482.96" stroke="#7c7c7c" stroke-width="1.7"/>
<circle cx="526.89" cy="482.96" r="5.8" fill="#e35d4f"/>
<text x="437.60" y="498.48" font-size="8.7" fill="#454545" text-anchor="end">glycoprotein metabolic process</text>
<line x1="449.10" y1="495.48" x2="524.32" y2="495.48" stroke="#7c7c7c" stroke-width="1.7"/>
<circle cx="524.32" cy="495.48" r="5.4" fill="#e35d4f"/>
<text x="437.60" y="511.00" font-size="8.7" fill="#454545" text-anchor="end">regulation of cell junction assembly</text>
<line x1="449.10" y1="508.00" x2="508.87" y2="508.00" stroke="#7c7c7c" stroke-width="1.7"/>
<circle cx="508.87" cy="508.00" r="4.7" fill="#e35d4f"/>
<text x="437.60" y="523.52" font-size="8.7" fill="#454545" text-anchor="end">glycoprotein biosynthetic process</text>
<line x1="449.10" y1="520.52" x2="509.16" y2="520.52" stroke="#7c7c7c" stroke-width="1.7"/>
<circle cx="509.16" cy="520.52" r="4.9" fill="#e35d4f"/>
<text x="437.60" y="536.04" font-size="8.7" fill="#454545" text-anchor="end">synaptic membrane adhesion</text>
<line x1="449.10" y1="533.04" x2="503.73" y2="533.04" stroke="#7c7c7c" stroke-width="1.7"/>
<circle cx="503.73" cy="533.04" r="2.4" fill="#e35d4f"/>
<text x="437.60" y="548.56" font-size="8.7" fill="#454545" text-anchor="end">positive regulation of synapse assembly</text>
<line x1="449.10" y1="545.56" x2="501.44" y2="545.56" stroke="#7c7c7c" stroke-width="1.7"/>
<circle cx="501.44" cy="545.56" r="3.1" fill="#e35d4f"/>
<text x="437.60" y="561.08" font-size="8.7" fill="#454545" text-anchor="end">glycosaminoglycan metabolic process</text>
<line x1="449.10" y1="558.08" x2="501.44" y2="558.08" stroke="#7c7c7c" stroke-width="1.7"/>
<circle cx="501.44" cy="558.08" r="3.2" fill="#e35d4f"/>
<text x="437.60" y="573.60" font-size="8.7" fill="#454545" text-anchor="end">sulfur compound metabolic process</text>
<line x1="449.10" y1="570.60" x2="497.15" y2="570.60" stroke="#7c7c7c" stroke-width="1.7"/>
<circle cx="497.15" cy="570.60" r="4.6" fill="#e35d4f"/>
<text x="437.60" y="586.12" font-size="8.7" fill="#454545" text-anchor="end">proteoglycan metabolic process</text>
<line x1="449.10" y1="583.12" x2="496.86" y2="583.12" stroke="#7c7c7c" stroke-width="1.7"/>
<circle cx="496.86" cy="583.12" r="3.1" fill="#e35d4f"/>
<text x="437.60" y="598.64" font-size="8.7" fill="#454545" text-anchor="end">regulation of cardiac muscle contraction</text>
<line x1="449.10" y1="595.64" x2="496.86" y2="595.64" stroke="#7c7c7c" stroke-width="1.7"/>
<circle cx="496.86" cy="595.64" r="3.1" fill="#e35d4f"/>
<text x="437.60" y="611.16" font-size="8.7" fill="#454545" text-anchor="end">chondroitin sulfate proteoglycan metabolic process</text>
<line x1="449.10" y1="608.16" x2="491.71" y2="608.16" stroke="#7c7c7c" stroke-width="1.7"/>
<circle cx="491.71" cy="608.16" r="2.0" fill="#e35d4f"/>
<text x="437.60" y="623.68" font-size="8.7" fill="#454545" text-anchor="end">proteoglycan biosynthetic process</text>
<line x1="449.10" y1="620.68" x2="490.28" y2="620.68" stroke="#7c7c7c" stroke-width="1.7"/>
<circle cx="490.28" cy="620.68" r="2.8" fill="#e35d4f"/>
<text x="437.60" y="636.20" font-size="8.7" fill="#454545" text-anchor="end">aminoglycan metabolic process</text>
<line x1="449.10" y1="633.20" x2="490.28" y2="633.20" stroke="#7c7c7c" stroke-width="1.7"/>
<circle cx="490.28" cy="633.20" r="3.3" fill="#e35d4f"/>
<text x="437.60" y="648.72" font-size="8.7" fill="#454545" text-anchor="end">chondroitin sulfate proteoglycan biosynthetic process</text>
<line x1="449.10" y1="645.72" x2="489.71" y2="645.72" stroke="#7c7c7c" stroke-width="1.7"/>
<circle cx="489.71" cy="645.72" r="1.0" fill="#e35d4f"/>
<text x="449.10" y="663.60" font-size="8.4" fill="#4d4d4d" text-anchor="middle">0</text>
<text x="477.70" y="663.60" font-size="8.4" fill="#4d4d4d" text-anchor="middle">1</text>
<text x="506.30" y="663.60" font-size="8.4" fill="#4d4d4d" text-anchor="middle">2</text>
<text x="534.90" y="663.60" font-size="8.4" fill="#4d4d4d" text-anchor="middle">3</text>
<text x="563.50" y="663.60" font-size="8.4" fill="#4d4d4d" text-anchor="middle">4</text>
<text x="592.10" y="663.60" font-size="8.4" fill="#4d4d4d" text-anchor="middle">5</text>
<text x="518.50" y="676.40" font-size="10.6" fill="#111" text-anchor="middle">−log10(P.adjust)</text>
<text x="609.70" y="445.80" font-size="10.0" fill="#111" text-anchor="start">Count</text>
<circle cx="617.0" cy="460.1" r="1.2" fill="#e05a4f" stroke="#333" stroke-width="0.6"/>
<text x="630.60" y="463.10" font-size="8.5" fill="#222" text-anchor="start">5</text>
<circle cx="617.0" cy="475.2" r="3.3" fill="#e05a4f" stroke="#333" stroke-width="0.6"/>
<text x="630.60" y="478.20" font-size="8.5" fill="#222" text-anchor="start">10</text>
<circle cx="617.0" cy="489.9" r="4.2" fill="#e05a4f" stroke="#333" stroke-width="0.6"/>
<text x="630.60" y="492.90" font-size="8.5" fill="#222" text-anchor="start">15</text>
<circle cx="617.0" cy="505.0" r="5.0" fill="#e05a4f" stroke="#333" stroke-width="0.6"/>
<text x="630.60" y="508.00" font-size="8.5" fill="#222" text-anchor="start">20</text>
<circle cx="617.0" cy="520.0" r="5.6" fill="#e05a4f" stroke="#333" stroke-width="0.6"/>
<text x="630.60" y="523.00" font-size="8.5" fill="#222" text-anchor="start">25</text>
<circle cx="617.0" cy="535.4" r="6.2" fill="#e05a4f" stroke="#333" stroke-width="0.6"/>
<text x="630.60" y="538.40" font-size="8.5" fill="#222" text-anchor="start">30</text>
<text x="609.70" y="572.50" font-size="10.3" fill="#111" text-anchor="start">−log10(p.adjust)</text>
<rect x="609.70" y="577.70" width="15.40" height="75.70" fill="url(#gG)"/>
<line x1="609.70" y1="597.20" x2="612.50" y2="597.20" stroke="#fff" stroke-width="0.6"/>
<line x1="622.30" y1="597.20" x2="625.10" y2="597.20" stroke="#fff" stroke-width="0.6"/>
<text x="630.60" y="600.20" font-size="8.5" fill="#222" text-anchor="start">4</text>
<line x1="609.70" y1="619.20" x2="612.50" y2="619.20" stroke="#fff" stroke-width="0.6"/>
<line x1="622.30" y1="619.20" x2="625.10" y2="619.20" stroke="#fff" stroke-width="0.6"/>
<text x="630.60" y="622.20" font-size="8.5" fill="#222" text-anchor="start">3</text>
<line x1="609.70" y1="641.20" x2="612.50" y2="641.20" stroke="#fff" stroke-width="0.6"/>
<line x1="622.30" y1="641.20" x2="625.10" y2="641.20" stroke="#fff" stroke-width="0.6"/>
<text x="630.60" y="644.20" font-size="8.5" fill="#222" text-anchor="start">2</text>
</svg>
</body></html>
